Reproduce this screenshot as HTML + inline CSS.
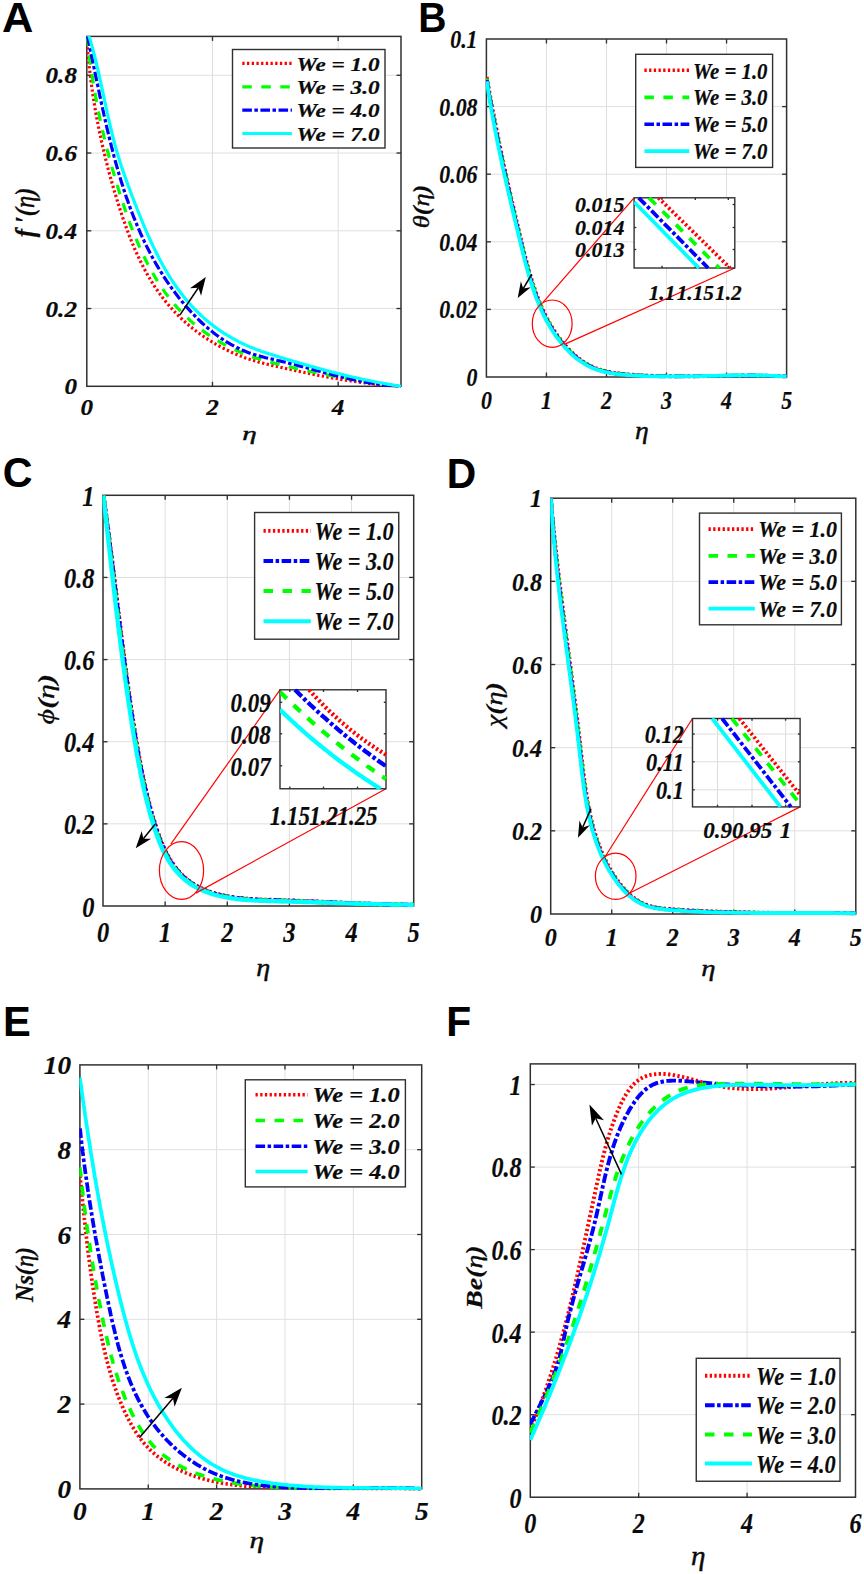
<!DOCTYPE html>
<html lang="en"><head><meta charset="utf-8"><title>Figure</title>
<style>
html,body{margin:0;padding:0;background:#fff}
svg{display:block}
svg text{font-family:"Liberation Serif", "DejaVu Serif", serif;font-weight:bold;font-style:italic;fill:#0a0a0a;stroke:#0a0a0a;stroke-width:0.22px}
svg text tspan.g{font-weight:normal;stroke-width:0.4px}
svg text.pl{font-family:"Liberation Sans","DejaVu Sans",sans-serif;font-style:normal;fill:#000;stroke:none}
</style></head>
<body>
<svg width="864" height="1574" viewBox="0 0 864 1574">
<rect x="0" y="0" width="864" height="1574" fill="#fff"/>
<clipPath id="clipA"><rect x="86.3" y="35.9" width="316.7" height="351.9"/></clipPath>
<text class="pl" transform="translate(2,32.2) scale(1.000,1)" font-size="43.4">A</text>
<line x1="212.48" y1="36.4" x2="212.48" y2="386.3" stroke="#dfdfdf" stroke-width="1"/>
<line x1="338.16" y1="36.4" x2="338.16" y2="386.3" stroke="#dfdfdf" stroke-width="1"/>
<line x1="86.8" y1="308.54" x2="401" y2="308.54" stroke="#dfdfdf" stroke-width="1"/>
<line x1="86.8" y1="230.79" x2="401" y2="230.79" stroke="#dfdfdf" stroke-width="1"/>
<line x1="86.8" y1="153.03" x2="401" y2="153.03" stroke="#dfdfdf" stroke-width="1"/>
<line x1="86.8" y1="75.28" x2="401" y2="75.28" stroke="#dfdfdf" stroke-width="1"/>
<rect x="86.8" y="36.4" width="314.2" height="349.9" fill="none" stroke="#303030" stroke-width="1.5"/>
<text transform="translate(86.8,414.6) scale(1.120,1)" font-size="22.5" text-anchor="middle">0</text>
<line x1="212.48" y1="386.3" x2="212.48" y2="381.8" stroke="#303030" stroke-width="1.35"/>
<line x1="212.48" y1="36.4" x2="212.48" y2="40.9" stroke="#303030" stroke-width="1.35"/>
<text transform="translate(212.48,414.6) scale(1.120,1)" font-size="22.5" text-anchor="middle">2</text>
<line x1="338.16" y1="386.3" x2="338.16" y2="381.8" stroke="#303030" stroke-width="1.35"/>
<line x1="338.16" y1="36.4" x2="338.16" y2="40.9" stroke="#303030" stroke-width="1.35"/>
<text transform="translate(338.16,414.6) scale(1.120,1)" font-size="22.5" text-anchor="middle">4</text>
<text transform="translate(77,394.3) scale(1.120,1)" font-size="22.5" text-anchor="end">0</text>
<line x1="86.8" y1="308.54" x2="91.3" y2="308.54" stroke="#303030" stroke-width="1.35"/>
<line x1="401" y1="308.54" x2="396.5" y2="308.54" stroke="#303030" stroke-width="1.35"/>
<text transform="translate(77,316.54) scale(1.120,1)" font-size="22.5" text-anchor="end">0.2</text>
<line x1="86.8" y1="230.79" x2="91.3" y2="230.79" stroke="#303030" stroke-width="1.35"/>
<line x1="401" y1="230.79" x2="396.5" y2="230.79" stroke="#303030" stroke-width="1.35"/>
<text transform="translate(77,238.79) scale(1.120,1)" font-size="22.5" text-anchor="end">0.4</text>
<line x1="86.8" y1="153.03" x2="91.3" y2="153.03" stroke="#303030" stroke-width="1.35"/>
<line x1="401" y1="153.03" x2="396.5" y2="153.03" stroke="#303030" stroke-width="1.35"/>
<text transform="translate(77,161.03) scale(1.120,1)" font-size="22.5" text-anchor="end">0.6</text>
<line x1="86.8" y1="75.28" x2="91.3" y2="75.28" stroke="#303030" stroke-width="1.35"/>
<line x1="401" y1="75.28" x2="396.5" y2="75.28" stroke="#303030" stroke-width="1.35"/>
<text transform="translate(77,83.28) scale(1.120,1)" font-size="22.5" text-anchor="end">0.8</text>
<text transform="translate(249.5,440) scale(1.500,1)" font-size="19.5" text-anchor="middle"><tspan class="g">η</tspan></text>
<text transform="translate(34.4,212.5) scale(1.100,1) rotate(-90)" font-size="24.5" text-anchor="middle" xml:space="preserve">f ′(<tspan class="g">η</tspan>)</text>
<path d="M86.8,38.0L87.0,40.5L87.1,43.1L87.3,45.6L87.5,48.1L87.7,50.6L87.9,53.2L88.2,55.7L88.4,58.2L88.6,60.7L88.9,63.2L89.1,65.7L89.4,68.2L89.7,70.7L90.0,73.2L90.3,75.7L90.6,78.2L90.9,80.7L91.2,83.2L91.6,85.7L91.9,88.2L92.3,90.6L92.6,93.1L93.0,95.6L93.4,98.1L93.8,100.5L94.2,103.0L94.6,105.5L95.0,107.9L95.4,110.4L95.8,112.9L96.3,115.3L96.7,117.8L97.2,120.2L97.7,122.7L98.1,125.2L98.6,127.6L99.1,130.1L99.6,132.5L100.1,134.9L100.7,137.4L101.2,139.8L101.7,142.3L102.3,144.7L102.8,147.2L103.4,149.6L104.0,152.0L104.6,154.5L105.1,156.9L105.7,159.3L106.4,161.8L107.0,164.2L107.6,166.6L108.2,169.1L108.9,171.5L109.5,173.9L110.2,176.3L110.8,178.8L111.5,181.2L112.2,183.6L112.9,186.0L113.6,188.5L114.3,190.9L115.0,193.3L115.8,195.7L116.5,198.1L117.2,200.6L118.0,203.0L118.8,205.4L119.5,207.8L120.3,210.2L121.1,212.6L121.9,215.1L122.7,217.5L123.5,219.9L124.4,222.3L125.2,224.7L126.1,227.1L126.9,229.4L127.8,231.8L128.7,234.2L129.6,236.6L130.6,238.9L131.5,241.3L132.5,243.6L133.5,245.9L134.4,248.3L135.5,250.6L136.5,252.9L137.5,255.2L138.6,257.4L139.7,259.7L140.8,262.0L141.9,264.2L143.1,266.5L144.2,268.7L145.4,270.9L146.6,273.1L147.8,275.3L149.1,277.4L150.4,279.6L151.7,281.7L153.0,283.8L154.3,285.9L155.7,288.0L157.1,290.0L158.5,292.1L160.0,294.1L161.4,296.1L162.9,298.1L164.5,300.1L166.0,302.0L167.6,303.9L169.2,305.8L170.9,307.7L172.5,309.6L174.2,311.4L176.0,313.2L177.7,315.0L179.5,316.8L181.3,318.5L183.1,320.2L185.0,321.9L186.9,323.6L188.8,325.2L190.8,326.8L192.7,328.4L194.7,330.0L196.7,331.5L198.7,333.0L200.8,334.5L202.9,336.0L205.0,337.4L207.1,338.8L209.2,340.1L211.3,341.5L213.5,342.8L215.7,344.1L217.9,345.3L220.1,346.5L222.4,347.7L224.6,348.9L226.9,350.0L229.2,351.1L231.5,352.2L233.8,353.2L236.1,354.2L238.4,355.2L240.8,356.1L243.1,357.0L245.5,357.9L247.9,358.7L250.3,359.5L252.7,360.2L255.1,361.0L257.5,361.7L259.9,362.4L262.4,363.0L264.8,363.6L267.2,364.2L269.7,364.8L272.1,365.4L274.6,366.0L277.0,366.5L279.5,367.1L281.9,367.6L284.4,368.2L286.8,368.7L289.3,369.3L291.7,369.8L294.2,370.3L296.6,370.9L299.1,371.4L301.6,371.9L304.0,372.4L306.5,372.9L308.9,373.4L311.4,373.9L313.9,374.4L316.3,374.9L318.8,375.4L321.3,375.8L323.7,376.3L326.2,376.8L328.7,377.2L331.2,377.7L333.6,378.1L336.1,378.5L338.6,378.9L341.1,379.4L343.5,379.8L346.0,380.2L348.5,380.5L351.0,380.9L353.5,381.3L356.0,381.7L358.4,382.0L360.9,382.3L363.4,382.7L365.9,383.0L368.4,383.3L370.9,383.6L373.4,383.9L375.9,384.2L378.4,384.4L380.9,384.7L383.4,384.9L385.9,385.2L388.4,385.4L390.9,385.6L393.5,385.8L396.0,386.0L398.5,386.1L401.0,386.3" fill="none" stroke="#ff0000" stroke-width="3.2" stroke-dasharray="2.3,2.4" clip-path="url(#clipA)"/>
<path d="M87.0,36.4L87.3,39.0L87.6,41.5L87.8,44.1L88.1,46.6L88.4,49.1L88.8,51.7L89.1,54.2L89.4,56.7L89.7,59.2L90.1,61.8L90.4,64.3L90.8,66.8L91.1,69.3L91.5,71.8L91.9,74.3L92.3,76.8L92.7,79.2L93.1,81.7L93.5,84.2L93.9,86.7L94.3,89.2L94.7,91.6L95.2,94.1L95.6,96.6L96.1,99.0L96.5,101.5L97.0,103.9L97.5,106.4L97.9,108.8L98.4,111.3L98.9,113.7L99.4,116.2L99.9,118.6L100.5,121.1L101.0,123.5L101.5,125.9L102.1,128.4L102.6,130.8L103.2,133.2L103.8,135.7L104.3,138.1L104.9,140.5L105.5,142.9L106.1,145.3L106.7,147.8L107.3,150.2L108.0,152.6L108.6,155.0L109.2,157.4L109.9,159.9L110.5,162.3L111.2,164.7L111.9,167.1L112.6,169.5L113.3,171.9L114.0,174.3L114.7,176.8L115.4,179.2L116.1,181.6L116.8,184.0L117.6,186.4L118.3,188.8L119.1,191.3L119.8,193.7L120.6,196.1L121.4,198.5L122.2,200.9L123.0,203.3L123.8,205.8L124.6,208.2L125.4,210.6L126.3,213.0L127.1,215.4L128.0,217.8L128.9,220.3L129.7,222.7L130.6,225.1L131.5,227.5L132.5,229.9L133.4,232.2L134.3,234.6L135.3,237.0L136.3,239.4L137.3,241.7L138.3,244.1L139.3,246.4L140.4,248.7L141.4,251.1L142.5,253.4L143.6,255.7L144.7,258.0L145.8,260.2L147.0,262.5L148.1,264.8L149.3,267.0L150.5,269.2L151.7,271.4L153.0,273.6L154.3,275.8L155.6,278.0L156.9,280.1L158.2,282.2L159.6,284.4L160.9,286.4L162.3,288.5L163.8,290.6L165.2,292.6L166.7,294.6L168.2,296.6L169.7,298.6L171.3,300.5L172.8,302.5L174.4,304.4L176.1,306.3L177.7,308.1L179.4,309.9L181.1,311.8L182.9,313.5L184.7,315.3L186.5,317.0L188.3,318.7L190.1,320.4L192.0,322.1L193.9,323.7L195.8,325.3L197.7,326.9L199.7,328.4L201.7,329.9L203.7,331.4L205.7,332.9L207.8,334.3L209.9,335.7L212.0,337.1L214.1,338.5L216.2,339.8L218.4,341.1L220.6,342.4L222.7,343.6L225.0,344.8L227.2,346.0L229.4,347.1L231.7,348.2L234.0,349.3L236.2,350.4L238.6,351.4L240.9,352.4L243.2,353.4L245.6,354.3L247.9,355.2L250.3,356.0L252.7,356.9L255.1,357.7L257.5,358.5L259.9,359.2L262.3,359.9L264.8,360.6L267.2,361.3L269.7,362.0L272.1,362.6L274.6,363.3L277.0,363.9L279.5,364.5L281.9,365.1L284.4,365.7L286.9,366.3L289.3,366.9L291.8,367.4L294.3,368.0L296.7,368.6L299.2,369.1L301.7,369.7L304.1,370.2L306.6,370.7L309.1,371.2L311.5,371.8L314.0,372.3L316.5,372.8L319.0,373.3L321.4,373.7L323.9,374.2L326.4,374.7L328.9,375.2L331.4,375.6L333.8,376.1L336.3,376.5L338.8,377.0L341.3,377.4L343.8,377.8L346.2,378.3L348.7,378.7L351.2,379.1L353.7,379.5L356.2,379.9L358.7,380.3L361.2,380.7L363.6,381.1L366.1,381.4L368.6,381.8L371.1,382.2L373.6,382.6L376.1,382.9L378.6,383.3L381.1,383.6L383.6,384.0L386.0,384.3L388.5,384.7L391.0,385.0L393.5,385.3L396.0,385.7L398.5,386.0L401.0,386.3" fill="none" stroke="#00ff00" stroke-width="3.2" stroke-dasharray="9.5,9.5" clip-path="url(#clipA)"/>
<path d="M87.5,36.4L88.0,38.8L88.5,41.2L89.0,43.5L89.5,45.9L90.0,48.3L90.5,50.7L91.0,53.2L91.5,55.6L92.0,58.0L92.5,60.4L93.0,62.8L93.5,65.3L94.0,67.7L94.5,70.1L95.0,72.6L95.5,75.0L96.0,77.5L96.5,79.9L97.1,82.4L97.6,84.8L98.1,87.3L98.6,89.8L99.1,92.2L99.6,94.7L100.1,97.2L100.7,99.6L101.2,102.1L101.7,104.6L102.3,107.1L102.8,109.5L103.4,112.0L103.9,114.5L104.5,117.0L105.0,119.5L105.6,121.9L106.2,124.4L106.7,126.9L107.3,129.4L107.9,131.9L108.5,134.3L109.1,136.8L109.7,139.3L110.3,141.8L110.9,144.2L111.5,146.7L112.2,149.2L112.8,151.6L113.5,154.1L114.1,156.6L114.8,159.0L115.4,161.5L116.1,163.9L116.8,166.4L117.5,168.8L118.2,171.3L118.9,173.7L119.7,176.1L120.4,178.6L121.1,181.0L121.9,183.4L122.7,185.9L123.4,188.3L124.2,190.7L125.0,193.1L125.8,195.5L126.6,197.9L127.5,200.3L128.3,202.6L129.2,205.0L130.0,207.4L130.9,209.8L131.8,212.1L132.7,214.5L133.6,216.8L134.6,219.2L135.5,221.5L136.5,223.8L137.4,226.1L138.4,228.4L139.4,230.7L140.4,233.0L141.5,235.3L142.5,237.6L143.6,239.9L144.6,242.1L145.7,244.4L146.8,246.6L147.9,248.8L149.1,251.1L150.2,253.3L151.4,255.5L152.6,257.7L153.8,259.9L155.0,262.0L156.2,264.2L157.5,266.3L158.8,268.5L160.0,270.6L161.4,272.7L162.7,274.8L164.0,276.9L165.4,279.0L166.8,281.1L168.2,283.1L169.6,285.2L171.0,287.2L172.5,289.3L174.0,291.3L175.5,293.3L177.0,295.2L178.5,297.2L180.1,299.2L181.6,301.1L183.3,303.0L184.9,305.0L186.5,306.9L188.2,308.7L189.9,310.6L191.6,312.5L193.3,314.3L195.1,316.1L196.8,317.9L198.6,319.7L200.5,321.5L202.3,323.2L204.2,324.9L206.1,326.6L208.0,328.2L209.9,329.8L211.9,331.4L213.8,333.0L215.8,334.5L217.9,336.0L219.9,337.5L222.0,338.9L224.1,340.3L226.2,341.6L228.3,342.9L230.5,344.2L232.7,345.4L234.9,346.6L237.1,347.7L239.4,348.8L241.6,349.9L244.0,350.8L246.3,351.8L248.6,352.7L251.0,353.5L253.4,354.3L255.8,355.0L258.3,355.7L260.7,356.4L263.2,357.0L265.6,357.7L268.1,358.3L270.6,358.8L273.1,359.4L275.6,360.0L278.1,360.6L280.6,361.1L283.0,361.7L285.5,362.3L288.0,362.9L290.4,363.6L292.9,364.2L295.3,364.8L297.8,365.4L300.2,366.1L302.6,366.7L305.1,367.4L307.5,368.0L309.9,368.7L312.3,369.3L314.8,370.0L317.2,370.6L319.6,371.3L322.0,371.9L324.4,372.6L326.8,373.2L329.3,373.8L331.7,374.5L334.1,375.1L336.5,375.7L338.9,376.3L341.4,376.9L343.8,377.5L346.2,378.1L348.6,378.6L351.1,379.2L353.5,379.7L356.0,380.2L358.4,380.7L360.8,381.2L363.3,381.7L365.8,382.2L368.2,382.6L370.7,383.0L373.2,383.4L375.7,383.8L378.2,384.2L380.7,384.5L383.2,384.8L385.7,385.1L388.2,385.4L390.8,385.6L393.3,385.8L395.9,386.0L398.4,386.2L401.0,386.3" fill="none" stroke="#0000ff" stroke-width="3.2" stroke-dasharray="9.6,2.5,3.5,2.5" clip-path="url(#clipA)"/>
<path d="M88.5,34.4L89.2,36.8L90.0,39.2L90.7,41.6L91.3,44.0L92.0,46.4L92.7,48.9L93.3,51.3L94.0,53.7L94.6,56.2L95.2,58.6L95.8,61.1L96.4,63.5L97.0,66.0L97.6,68.4L98.1,70.9L98.7,73.4L99.3,75.9L99.8,78.3L100.4,80.8L100.9,83.3L101.4,85.8L102.0,88.2L102.5,90.7L103.0,93.2L103.6,95.7L104.1,98.1L104.6,100.6L105.2,103.1L105.7,105.6L106.2,108.1L106.8,110.5L107.3,113.0L107.9,115.5L108.4,117.9L109.0,120.4L109.5,122.9L110.1,125.3L110.7,127.8L111.3,130.2L111.8,132.7L112.5,135.1L113.1,137.5L113.7,140.0L114.3,142.4L115.0,144.8L115.6,147.2L116.3,149.6L117.0,152.0L117.7,154.4L118.4,156.8L119.2,159.2L119.9,161.5L120.7,163.9L121.4,166.3L122.2,168.6L123.0,171.0L123.8,173.3L124.6,175.7L125.5,178.0L126.3,180.4L127.2,182.7L128.0,185.0L128.9,187.4L129.8,189.7L130.6,192.1L131.5,194.4L132.4,196.8L133.3,199.1L134.2,201.5L135.1,203.8L136.1,206.2L137.0,208.5L137.9,210.9L138.9,213.3L139.8,215.6L140.8,218.0L141.7,220.4L142.7,222.7L143.7,225.1L144.7,227.4L145.7,229.8L146.7,232.1L147.7,234.5L148.8,236.8L149.8,239.1L150.9,241.5L152.0,243.8L153.1,246.1L154.2,248.4L155.3,250.7L156.4,253.0L157.6,255.3L158.7,257.5L159.9,259.8L161.1,262.0L162.3,264.2L163.6,266.5L164.8,268.7L166.1,270.9L167.4,273.0L168.7,275.2L170.0,277.3L171.4,279.5L172.8,281.6L174.2,283.7L175.6,285.7L177.0,287.8L178.5,289.8L180.0,291.8L181.5,293.8L183.0,295.8L184.6,297.7L186.2,299.7L187.8,301.6L189.4,303.5L191.1,305.3L192.8,307.2L194.5,309.0L196.2,310.7L198.0,312.5L199.8,314.2L201.6,315.9L203.5,317.6L205.3,319.2L207.2,320.9L209.2,322.5L211.1,324.0L213.1,325.6L215.1,327.1L217.1,328.5L219.2,330.0L221.2,331.4L223.3,332.8L225.4,334.1L227.6,335.4L229.7,336.7L231.9,338.0L234.1,339.2L236.3,340.4L238.5,341.6L240.8,342.7L243.0,343.8L245.3,344.9L247.6,345.9L249.9,346.9L252.3,347.8L254.6,348.8L257.0,349.7L259.4,350.5L261.7,351.4L264.1,352.2L266.5,353.0L268.9,353.8L271.4,354.5L273.8,355.3L276.2,356.1L278.6,356.8L281.1,357.5L283.5,358.3L285.9,359.0L288.3,359.7L290.8,360.4L293.2,361.2L295.6,361.9L298.0,362.6L300.4,363.3L302.9,364.0L305.3,364.7L307.7,365.4L310.1,366.1L312.6,366.7L315.0,367.4L317.4,368.1L319.9,368.7L322.3,369.4L324.7,370.1L327.1,370.7L329.6,371.3L332.0,372.0L334.4,372.6L336.9,373.2L339.3,373.8L341.8,374.4L344.2,375.0L346.6,375.6L349.1,376.2L351.5,376.8L354.0,377.3L356.4,377.9L358.9,378.4L361.3,379.0L363.8,379.5L366.3,380.0L368.7,380.5L371.2,381.0L373.7,381.5L376.1,382.0L378.6,382.5L381.1,382.9L383.6,383.4L386.0,383.8L388.5,384.3L391.0,384.7L393.5,385.1L396.0,385.5L398.5,385.9L401.0,386.3" fill="none" stroke="#00ffff" stroke-width="3.2" clip-path="url(#clipA)"/>
<line x1="179.8" y1="315.1" x2="198.39" y2="287.79" stroke="#000" stroke-width="1.5"/>
<polygon points="205.8,276.9 201.04,295.8 198.39,287.79 189.96,288.26" fill="#000"/>
<rect x="232.5" y="49.5" width="152.5" height="98.5" fill="#fff" stroke="#303030" stroke-width="1.4"/>
<path d="M242.3,63.3L291.9,63.3" fill="none" stroke="#ff0000" stroke-width="3.2" stroke-dasharray="2.3,2.4"/>
<text transform="translate(296.5,70.5) scale(1.235,1)" font-size="18.8" text-anchor="start" xml:space="preserve">We = 1.0</text>
<path d="M242.3,86.9L291.9,86.9" fill="none" stroke="#00ff00" stroke-width="3.2" stroke-dasharray="9.5,9.5"/>
<text transform="translate(296.5,93.6) scale(1.235,1)" font-size="18.8" text-anchor="start" xml:space="preserve">We = 3.0</text>
<path d="M242.3,110.2L291.9,110.2" fill="none" stroke="#0000ff" stroke-width="3.2" stroke-dasharray="9.6,2.5,3.5,2.5"/>
<text transform="translate(296.5,117) scale(1.235,1)" font-size="18.8" text-anchor="start" xml:space="preserve">We = 4.0</text>
<path d="M242.3,133.5L291.9,133.5" fill="none" stroke="#00ffff" stroke-width="3.2"/>
<text transform="translate(296.5,140.6) scale(1.235,1)" font-size="18.8" text-anchor="start" xml:space="preserve">We = 7.0</text>
<clipPath id="clipB"><rect x="485.9" y="38.5" width="302.7" height="340"/></clipPath>
<text class="pl" transform="translate(418.3,32.2) scale(0.900,1)" font-size="43.4">B</text>
<line x1="546.44" y1="39" x2="546.44" y2="377" stroke="#dfdfdf" stroke-width="1"/>
<line x1="606.48" y1="39" x2="606.48" y2="377" stroke="#dfdfdf" stroke-width="1"/>
<line x1="666.52" y1="39" x2="666.52" y2="377" stroke="#dfdfdf" stroke-width="1"/>
<line x1="726.56" y1="39" x2="726.56" y2="377" stroke="#dfdfdf" stroke-width="1"/>
<line x1="486.4" y1="309.4" x2="786.6" y2="309.4" stroke="#dfdfdf" stroke-width="1"/>
<line x1="486.4" y1="241.8" x2="786.6" y2="241.8" stroke="#dfdfdf" stroke-width="1"/>
<line x1="486.4" y1="174.2" x2="786.6" y2="174.2" stroke="#dfdfdf" stroke-width="1"/>
<line x1="486.4" y1="106.6" x2="786.6" y2="106.6" stroke="#dfdfdf" stroke-width="1"/>
<rect x="486.4" y="39" width="300.2" height="338" fill="none" stroke="#303030" stroke-width="1.5"/>
<text transform="translate(486.4,409.2) scale(0.860,1)" font-size="25.4" text-anchor="middle">0</text>
<line x1="546.44" y1="377" x2="546.44" y2="372.5" stroke="#303030" stroke-width="1.35"/>
<line x1="546.44" y1="39" x2="546.44" y2="43.5" stroke="#303030" stroke-width="1.35"/>
<text transform="translate(546.44,409.2) scale(0.860,1)" font-size="25.4" text-anchor="middle">1</text>
<line x1="606.48" y1="377" x2="606.48" y2="372.5" stroke="#303030" stroke-width="1.35"/>
<line x1="606.48" y1="39" x2="606.48" y2="43.5" stroke="#303030" stroke-width="1.35"/>
<text transform="translate(606.48,409.2) scale(0.860,1)" font-size="25.4" text-anchor="middle">2</text>
<line x1="666.52" y1="377" x2="666.52" y2="372.5" stroke="#303030" stroke-width="1.35"/>
<line x1="666.52" y1="39" x2="666.52" y2="43.5" stroke="#303030" stroke-width="1.35"/>
<text transform="translate(666.52,409.2) scale(0.860,1)" font-size="25.4" text-anchor="middle">3</text>
<line x1="726.56" y1="377" x2="726.56" y2="372.5" stroke="#303030" stroke-width="1.35"/>
<line x1="726.56" y1="39" x2="726.56" y2="43.5" stroke="#303030" stroke-width="1.35"/>
<text transform="translate(726.56,409.2) scale(0.860,1)" font-size="25.4" text-anchor="middle">4</text>
<text transform="translate(786.6,409.2) scale(0.860,1)" font-size="25.4" text-anchor="middle">5</text>
<text transform="translate(477.5,386) scale(0.860,1)" font-size="25.4" text-anchor="end">0</text>
<line x1="486.4" y1="309.4" x2="490.9" y2="309.4" stroke="#303030" stroke-width="1.35"/>
<line x1="786.6" y1="309.4" x2="782.1" y2="309.4" stroke="#303030" stroke-width="1.35"/>
<text transform="translate(477.5,318.4) scale(0.860,1)" font-size="25.4" text-anchor="end">0.02</text>
<line x1="486.4" y1="241.8" x2="490.9" y2="241.8" stroke="#303030" stroke-width="1.35"/>
<line x1="786.6" y1="241.8" x2="782.1" y2="241.8" stroke="#303030" stroke-width="1.35"/>
<text transform="translate(477.5,250.8) scale(0.860,1)" font-size="25.4" text-anchor="end">0.04</text>
<line x1="486.4" y1="174.2" x2="490.9" y2="174.2" stroke="#303030" stroke-width="1.35"/>
<line x1="786.6" y1="174.2" x2="782.1" y2="174.2" stroke="#303030" stroke-width="1.35"/>
<text transform="translate(477.5,183.2) scale(0.860,1)" font-size="25.4" text-anchor="end">0.06</text>
<line x1="486.4" y1="106.6" x2="490.9" y2="106.6" stroke="#303030" stroke-width="1.35"/>
<line x1="786.6" y1="106.6" x2="782.1" y2="106.6" stroke="#303030" stroke-width="1.35"/>
<text transform="translate(477.5,115.6) scale(0.860,1)" font-size="25.4" text-anchor="end">0.08</text>
<text transform="translate(477.5,48) scale(0.860,1)" font-size="25.4" text-anchor="end">0.1</text>
<text transform="translate(641.8,439) scale(1.130,1)" font-size="24.5" text-anchor="middle"><tspan class="g">η</tspan></text>
<text transform="translate(428.5,206.5) scale(0.876,1) rotate(-90)" font-size="26.4" text-anchor="middle" xml:space="preserve"><tspan class="g">θ</tspan>(<tspan class="g">η</tspan>)</text>
<path d="M486.8,77.0L487.2,79.5L487.7,82.0L488.1,84.6L488.6,87.1L489.0,89.6L489.5,92.1L489.9,94.6L490.4,97.1L490.9,99.6L491.3,102.1L491.8,104.6L492.3,107.1L492.7,109.6L493.2,112.0L493.7,114.5L494.2,117.0L494.6,119.5L495.1,121.9L495.6,124.4L496.1,126.9L496.6,129.3L497.1,131.8L497.6,134.3L498.1,136.7L498.6,139.2L499.1,141.7L499.6,144.1L500.1,146.6L500.6,149.0L501.1,151.5L501.6,153.9L502.2,156.4L502.7,158.8L503.2,161.3L503.7,163.7L504.2,166.2L504.8,168.6L505.3,171.0L505.8,173.5L506.4,175.9L506.9,178.4L507.5,180.8L508.0,183.3L508.5,185.7L509.1,188.2L509.6,190.6L510.2,193.1L510.8,195.5L511.3,197.9L511.9,200.4L512.4,202.8L513.0,205.3L513.6,207.7L514.1,210.2L514.7,212.6L515.3,215.1L515.8,217.6L516.4,220.0L517.0,222.5L517.6,224.9L518.2,227.4L518.8,229.8L519.3,232.3L519.9,234.8L520.5,237.2L521.1,239.7L521.7,242.2L522.3,244.7L522.9,247.1L523.5,249.6L524.1,252.1L524.8,254.6L525.4,257.1L526.0,259.5L526.7,262.0L527.3,264.5L528.0,266.9L528.7,269.4L529.4,271.8L530.1,274.3L530.8,276.7L531.5,279.2L532.3,281.6L533.1,284.0L533.8,286.4L534.7,288.8L535.5,291.2L536.3,293.6L537.2,296.0L538.1,298.3L539.0,300.7L540.0,303.0L540.9,305.3L541.9,307.6L543.0,309.9L544.0,312.1L545.1,314.4L546.2,316.6L547.4,318.8L548.5,321.0L549.8,323.2L551.0,325.4L552.3,327.5L553.6,329.6L555.0,331.7L556.4,333.8L557.8,335.8L559.3,337.8L560.8,339.8L562.3,341.8L563.9,343.8L565.6,345.7L567.3,347.6L569.0,349.4L570.8,351.2L572.6,353.0L574.4,354.7L576.3,356.3L578.3,357.9L580.3,359.4L582.3,360.9L584.4,362.3L586.5,363.6L588.6,364.8L590.8,366.0L593.1,367.0L595.4,368.0L597.7,368.8L600.0,369.6L602.4,370.3L604.9,370.9L607.3,371.5L609.8,372.0L612.3,372.4L614.8,372.8L617.3,373.2L619.9,373.5L622.4,373.8L625.0,374.0L627.5,374.3L630.1,374.5L632.6,374.7L635.2,374.9L637.7,375.0L640.3,375.2L642.8,375.3L645.3,375.5L647.9,375.6L650.4,375.7L652.9,375.8L655.5,375.9L658.0,376.0L660.5,376.1L663.1,376.1L665.6,376.2L668.1,376.2L670.6,376.3L673.2,376.3L675.7,376.3L678.2,376.4L680.7,376.4L683.2,376.4L685.7,376.4L688.2,376.4L690.8,376.4L693.3,376.4L695.8,376.4L698.3,376.3L700.8,376.3L703.3,376.3L705.8,376.3L708.3,376.2L710.9,376.2L713.4,376.2L715.9,376.1L718.4,376.1L720.9,376.1L723.4,376.0L725.9,376.0L728.4,376.0L730.9,376.0L733.5,375.9L736.0,375.9L738.5,375.9L741.0,375.9L743.5,375.9L746.1,375.9L748.6,375.9L751.1,375.9L753.6,375.9L756.1,375.9L758.7,375.9L761.2,375.9L763.7,375.9L766.3,376.0L768.8,376.0L771.3,376.1L773.9,376.1L776.4,376.2L779.0,376.3L781.5,376.4L784.0,376.5L786.6,376.6" fill="none" stroke="#ff0000" stroke-width="3.8" stroke-dasharray="2.3,2.4" clip-path="url(#clipB)"/>
<path d="M486.8,78.5L487.2,81.0L487.7,83.5L488.1,86.1L488.5,88.6L489.0,91.1L489.4,93.6L489.8,96.1L490.3,98.6L490.7,101.1L491.2,103.6L491.6,106.1L492.1,108.6L492.6,111.1L493.0,113.5L493.5,116.0L494.0,118.5L494.5,121.0L494.9,123.4L495.4,125.9L495.9,128.4L496.4,130.8L496.9,133.3L497.4,135.7L497.9,138.2L498.4,140.6L498.9,143.1L499.4,145.5L499.9,148.0L500.4,150.4L500.9,152.9L501.4,155.3L501.9,157.8L502.5,160.2L503.0,162.7L503.5,165.1L504.0,167.5L504.6,170.0L505.1,172.4L505.6,174.9L506.2,177.3L506.7,179.7L507.3,182.2L507.8,184.6L508.3,187.1L508.9,189.5L509.4,191.9L510.0,194.4L510.6,196.8L511.1,199.3L511.7,201.7L512.2,204.1L512.8,206.6L513.4,209.0L514.0,211.5L514.5,213.9L515.1,216.4L515.7,218.8L516.3,221.3L516.8,223.7L517.4,226.2L518.0,228.6L518.6,231.1L519.2,233.6L519.8,236.0L520.4,238.5L521.0,241.0L521.6,243.4L522.2,245.9L522.8,248.4L523.4,250.8L524.0,253.3L524.6,255.8L525.3,258.3L525.9,260.7L526.5,263.2L527.2,265.7L527.9,268.1L528.5,270.6L529.2,273.0L529.9,275.5L530.7,277.9L531.4,280.3L532.2,282.8L532.9,285.2L533.7,287.6L534.5,290.0L535.4,292.4L536.2,294.7L537.1,297.1L538.0,299.4L538.9,301.8L539.9,304.1L540.9,306.4L541.9,308.7L542.9,311.0L544.0,313.2L545.1,315.5L546.2,317.7L547.3,319.9L548.5,322.1L549.7,324.2L551.0,326.4L552.3,328.5L553.6,330.6L555.0,332.7L556.4,334.8L557.8,336.8L559.3,338.8L560.8,340.8L562.4,342.7L564.0,344.7L565.7,346.6L567.4,348.4L569.1,350.3L570.9,352.0L572.7,353.8L574.6,355.5L576.5,357.1L578.5,358.7L580.5,360.2L582.5,361.6L584.6,362.9L586.7,364.2L588.9,365.4L591.1,366.5L593.3,367.5L595.6,368.5L598.0,369.3L600.3,370.1L602.7,370.7L605.1,371.4L607.6,371.9L610.1,372.4L612.6,372.8L615.1,373.2L617.6,373.5L620.1,373.8L622.7,374.1L625.2,374.4L627.8,374.6L630.3,374.8L632.9,375.0L635.4,375.2L637.9,375.3L640.5,375.5L643.0,375.6L645.6,375.7L648.1,375.8L650.6,375.9L653.2,376.0L655.7,376.1L658.2,376.2L660.7,376.2L663.3,376.3L665.8,376.3L668.3,376.4L670.8,376.4L673.3,376.4L675.8,376.4L678.4,376.4L680.9,376.4L683.4,376.4L685.9,376.4L688.4,376.4L690.9,376.4L693.4,376.3L696.0,376.3L698.5,376.3L701.0,376.2L703.5,376.2L706.0,376.2L708.5,376.1L711.0,376.1L713.5,376.0L716.0,376.0L718.5,376.0L721.0,375.9L723.6,375.9L726.1,375.8L728.6,375.8L731.1,375.8L733.6,375.7L736.1,375.7L738.6,375.7L741.1,375.7L743.7,375.7L746.2,375.7L748.7,375.7L751.2,375.7L753.7,375.7L756.2,375.7L758.8,375.7L761.3,375.7L763.8,375.8L766.3,375.8L768.9,375.9L771.4,376.0L773.9,376.0L776.5,376.1L779.0,376.2L781.5,376.3L784.1,376.5L786.6,376.6" fill="none" stroke="#00ff00" stroke-width="3.8" stroke-dasharray="9.5,9.5" clip-path="url(#clipB)"/>
<path d="M486.8,80.0L487.2,82.5L487.6,85.1L488.0,87.6L488.5,90.1L488.9,92.6L489.3,95.1L489.7,97.6L490.2,100.1L490.6,102.6L491.1,105.1L491.5,107.6L492.0,110.1L492.4,112.5L492.9,115.0L493.3,117.5L493.8,120.0L494.3,122.4L494.8,124.9L495.2,127.4L495.7,129.8L496.2,132.3L496.7,134.7L497.2,137.2L497.7,139.6L498.2,142.1L498.7,144.5L499.2,147.0L499.7,149.4L500.2,151.9L500.7,154.3L501.2,156.7L501.7,159.2L502.2,161.6L502.8,164.0L503.3,166.5L503.8,168.9L504.4,171.3L504.9,173.8L505.4,176.2L506.0,178.6L506.5,181.1L507.1,183.5L507.6,185.9L508.2,188.4L508.7,190.8L509.3,193.2L509.8,195.7L510.4,198.1L511.0,200.5L511.5,203.0L512.1,205.4L512.7,207.9L513.2,210.3L513.8,212.7L514.4,215.2L515.0,217.6L515.5,220.1L516.1,222.5L516.7,225.0L517.3,227.4L517.9,229.9L518.5,232.3L519.1,234.8L519.6,237.2L520.2,239.7L520.8,242.2L521.4,244.6L522.0,247.1L522.6,249.6L523.3,252.0L523.9,254.5L524.5,257.0L525.1,259.4L525.8,261.9L526.4,264.4L527.1,266.8L527.7,269.3L528.4,271.7L529.1,274.2L529.8,276.6L530.6,279.0L531.3,281.5L532.1,283.9L532.8,286.3L533.6,288.7L534.5,291.1L535.3,293.4L536.2,295.8L537.0,298.2L538.0,300.5L538.9,302.8L539.8,305.1L540.8,307.4L541.8,309.7L542.9,312.0L543.9,314.2L545.0,316.5L546.2,318.7L547.3,320.9L548.5,323.1L549.8,325.2L551.0,327.3L552.3,329.5L553.7,331.5L555.0,333.6L556.5,335.7L557.9,337.7L559.4,339.7L560.9,341.6L562.5,343.6L564.1,345.5L565.8,347.4L567.5,349.2L569.3,351.0L571.1,352.8L572.9,354.5L574.8,356.2L576.7,357.8L578.7,359.3L580.7,360.8L582.7,362.2L584.8,363.5L587.0,364.8L589.1,365.9L591.4,367.0L593.6,368.0L595.9,368.9L598.3,369.7L600.6,370.4L603.0,371.1L605.5,371.7L607.9,372.2L610.4,372.7L612.9,373.1L615.4,373.5L617.9,373.8L620.4,374.1L623.0,374.4L625.5,374.6L628.1,374.8L630.6,375.0L633.1,375.2L635.7,375.4L638.2,375.5L640.7,375.6L643.3,375.8L645.8,375.9L648.3,376.0L650.9,376.1L653.4,376.2L655.9,376.2L658.4,376.3L661.0,376.3L663.5,376.4L666.0,376.4L668.5,376.4L671.0,376.4L673.5,376.5L676.1,376.5L678.6,376.4L681.1,376.4L683.6,376.4L686.1,376.4L688.6,376.4L691.1,376.3L693.6,376.3L696.1,376.3L698.6,376.2L701.1,376.2L703.6,376.1L706.2,376.1L708.7,376.0L711.2,376.0L713.7,375.9L716.2,375.9L718.7,375.8L721.2,375.8L723.7,375.8L726.2,375.7L728.7,375.7L731.2,375.6L733.7,375.6L736.2,375.6L738.7,375.6L741.3,375.5L743.8,375.5L746.3,375.5L748.8,375.5L751.3,375.5L753.8,375.5L756.3,375.6L758.8,375.6L761.4,375.6L763.9,375.7L766.4,375.7L768.9,375.8L771.4,375.9L774.0,376.0L776.5,376.1L779.0,376.2L781.5,376.3L784.1,376.4L786.6,376.6" fill="none" stroke="#0000ff" stroke-width="3.8" stroke-dasharray="9.6,2.5,3.5,2.5" clip-path="url(#clipB)"/>
<path d="M486.8,81.3L487.2,83.8L487.6,86.4L488.0,88.9L488.4,91.5L488.8,94.0L489.2,96.5L489.6,99.0L490.0,101.5L490.4,104.0L490.9,106.5L491.3,109.0L491.7,111.5L492.2,114.0L492.6,116.5L493.1,119.0L493.5,121.5L494.0,124.0L494.5,126.4L494.9,128.9L495.4,131.4L495.9,133.8L496.4,136.3L496.9,138.8L497.3,141.2L497.8,143.7L498.3,146.1L498.8,148.6L499.4,151.1L499.9,153.5L500.4,156.0L500.9,158.4L501.4,160.8L501.9,163.3L502.5,165.7L503.0,168.2L503.5,170.6L504.1,173.1L504.6,175.5L505.2,177.9L505.7,180.4L506.3,182.8L506.8,185.3L507.4,187.7L507.9,190.1L508.5,192.6L509.1,195.0L509.6,197.5L510.2,199.9L510.8,202.3L511.3,204.8L511.9,207.2L512.5,209.7L513.1,212.1L513.7,214.6L514.2,217.0L514.8,219.5L515.4,221.9L516.0,224.4L516.6,226.8L517.2,229.3L517.8,231.8L518.4,234.2L519.0,236.7L519.6,239.2L520.2,241.6L520.8,244.1L521.4,246.6L522.0,249.1L522.6,251.5L523.2,254.0L523.8,256.5L524.5,259.0L525.1,261.5L525.8,263.9L526.4,266.4L527.1,268.9L527.8,271.3L528.5,273.8L529.2,276.2L529.9,278.7L530.6,281.1L531.4,283.6L532.2,286.0L533.0,288.4L533.8,290.8L534.6,293.2L535.5,295.6L536.3,297.9L537.2,300.3L538.2,302.6L539.1,304.9L540.1,307.3L541.1,309.5L542.1,311.8L543.2,314.1L544.3,316.3L545.4,318.6L546.6,320.8L547.8,323.0L549.0,325.1L550.3,327.3L551.6,329.4L552.9,331.5L554.3,333.6L555.7,335.6L557.1,337.7L558.6,339.7L560.2,341.6L561.8,343.6L563.4,345.5L565.0,347.4L566.8,349.3L568.5,351.1L570.3,352.9L572.2,354.6L574.0,356.3L576.0,357.9L577.9,359.4L580.0,360.9L582.0,362.3L584.1,363.7L586.2,364.9L588.4,366.1L590.7,367.2L592.9,368.2L595.2,369.1L597.6,369.9L599.9,370.6L602.3,371.3L604.8,371.9L607.2,372.4L609.7,372.9L612.2,373.3L614.7,373.7L617.3,374.1L619.8,374.3L622.3,374.6L624.9,374.8L627.4,375.0L630.0,375.2L632.5,375.4L635.1,375.6L637.6,375.7L640.2,375.9L642.7,376.0L645.3,376.1L647.8,376.2L650.3,376.3L652.9,376.3L655.4,376.4L657.9,376.4L660.5,376.5L663.0,376.5L665.5,376.5L668.0,376.5L670.6,376.5L673.1,376.5L675.6,376.5L678.1,376.5L680.7,376.5L683.2,376.4L685.7,376.4L688.2,376.4L690.8,376.3L693.3,376.3L695.8,376.2L698.3,376.2L700.8,376.1L703.4,376.0L705.9,376.0L708.4,375.9L710.9,375.9L713.4,375.8L715.9,375.8L718.5,375.7L721.0,375.6L723.5,375.6L726.0,375.5L728.5,375.5L731.0,375.5L733.6,375.4L736.1,375.4L738.6,375.4L741.1,375.3L743.6,375.3L746.2,375.3L748.7,375.3L751.2,375.3L753.7,375.4L756.2,375.4L758.8,375.4L761.3,375.5L763.8,375.5L766.3,375.6L768.9,375.7L771.4,375.8L773.9,375.9L776.5,376.0L779.0,376.1L781.5,376.3L784.1,376.4L786.6,376.6" fill="none" stroke="#00ffff" stroke-width="3.8" clip-path="url(#clipB)"/>
<clipPath id="clipIB"><rect x="634.1" y="196.8" width="101.7" height="72.7"/></clipPath>
<ellipse cx="552.2" cy="323.7" rx="19.9" ry="23.7" fill="none" stroke="#ff0000" stroke-width="1.2"/>
<line x1="543" y1="302.4" x2="634.1" y2="197.8" stroke="#ff0000" stroke-width="1.2"/>
<line x1="564.3" y1="344.4" x2="734.8" y2="268" stroke="#ff0000" stroke-width="1.2"/>
<rect x="634.1" y="197.8" width="100.7" height="70.2" fill="#fff" stroke="none"/>
<rect x="634.1" y="197.8" width="100.7" height="70.2" fill="none" stroke="#303030" stroke-width="1.4"/>
<line x1="662" y1="268" x2="662" y2="265.8" stroke="#303030" stroke-width="1.35"/>
<line x1="662" y1="197.8" x2="662" y2="200" stroke="#303030" stroke-width="1.35"/>
<text transform="translate(662,300.4) scale(0.970,1)" font-size="22" text-anchor="middle">1.1</text>
<line x1="695.3" y1="268" x2="695.3" y2="265.8" stroke="#303030" stroke-width="1.35"/>
<line x1="695.3" y1="197.8" x2="695.3" y2="200" stroke="#303030" stroke-width="1.35"/>
<text transform="translate(695.3,300.4) scale(0.970,1)" font-size="22" text-anchor="middle">1.15</text>
<line x1="728.3" y1="268" x2="728.3" y2="265.8" stroke="#303030" stroke-width="1.35"/>
<line x1="728.3" y1="197.8" x2="728.3" y2="200" stroke="#303030" stroke-width="1.35"/>
<text transform="translate(728.3,300.4) scale(0.970,1)" font-size="22" text-anchor="middle">1.2</text>
<line x1="634.1" y1="204.5" x2="636.3" y2="204.5" stroke="#303030" stroke-width="1.35"/>
<line x1="734.8" y1="204.5" x2="732.6" y2="204.5" stroke="#303030" stroke-width="1.35"/>
<text transform="translate(624.5,212.3)" font-size="22" text-anchor="end">0.015</text>
<line x1="634.1" y1="227.5" x2="636.3" y2="227.5" stroke="#303030" stroke-width="1.35"/>
<line x1="734.8" y1="227.5" x2="732.6" y2="227.5" stroke="#303030" stroke-width="1.35"/>
<text transform="translate(624.5,235.3)" font-size="22" text-anchor="end">0.014</text>
<line x1="634.1" y1="249.5" x2="636.3" y2="249.5" stroke="#303030" stroke-width="1.35"/>
<line x1="734.8" y1="249.5" x2="732.6" y2="249.5" stroke="#303030" stroke-width="1.35"/>
<text transform="translate(624.5,257.3)" font-size="22" text-anchor="end">0.013</text>
<path d="M658.4,197.8L730.1,268" fill="none" stroke="#ff0000" stroke-width="3.8" stroke-dasharray="2.3,2.4" clip-path="url(#clipIB)"/>
<path d="M649.1,197.8L719.3,268" fill="none" stroke="#00ff00" stroke-width="3.8" stroke-dasharray="9.5,9.5" clip-path="url(#clipIB)"/>
<path d="M638.7,197.8L708.1,268" fill="none" stroke="#0000ff" stroke-width="3.8" stroke-dasharray="9.6,2.5,3.5,2.5" clip-path="url(#clipIB)"/>
<path d="M634.1,202L698.9,268" fill="none" stroke="#00ffff" stroke-width="3.8" clip-path="url(#clipIB)"/>
<line x1="531.6" y1="274.5" x2="523.22" y2="288.6" stroke="#000" stroke-width="1.5"/>
<polygon points="517.7,297.9 520.88,281.29 523.22,288.6 530.76,287.17" fill="#000"/>
<rect x="635.7" y="54.3" width="136.9" height="113.1" fill="#fff" stroke="#303030" stroke-width="1.4"/>
<path d="M644.4,70.2L689.3,70.2" fill="none" stroke="#ff0000" stroke-width="3.6" stroke-dasharray="2.3,2.4"/>
<text transform="translate(693,78.5) scale(0.930,1)" font-size="22.4" text-anchor="start" xml:space="preserve">We = 1.0</text>
<path d="M644.4,97.4L689.3,97.4" fill="none" stroke="#00ff00" stroke-width="3.6" stroke-dasharray="9.5,9.5"/>
<text transform="translate(693,105.2) scale(0.930,1)" font-size="22.4" text-anchor="start" xml:space="preserve">We = 3.0</text>
<path d="M644.4,124.3L689.3,124.3" fill="none" stroke="#0000ff" stroke-width="3.6" stroke-dasharray="9.6,2.5,3.5,2.5"/>
<text transform="translate(693,132) scale(0.930,1)" font-size="22.4" text-anchor="start" xml:space="preserve">We = 5.0</text>
<path d="M644.4,151.1L689.3,151.1" fill="none" stroke="#00ffff" stroke-width="3.6"/>
<text transform="translate(693,158.9) scale(0.930,1)" font-size="22.4" text-anchor="start" xml:space="preserve">We = 7.0</text>
<clipPath id="clipC"><rect x="102.5" y="494.8" width="313.2" height="412.7"/></clipPath>
<text class="pl" transform="translate(2.7,487.3) scale(0.950,1)" font-size="43.4">C</text>
<line x1="165.14" y1="495.3" x2="165.14" y2="906" stroke="#dfdfdf" stroke-width="1"/>
<line x1="227.28" y1="495.3" x2="227.28" y2="906" stroke="#dfdfdf" stroke-width="1"/>
<line x1="289.42" y1="495.3" x2="289.42" y2="906" stroke="#dfdfdf" stroke-width="1"/>
<line x1="351.56" y1="495.3" x2="351.56" y2="906" stroke="#dfdfdf" stroke-width="1"/>
<line x1="103" y1="823.86" x2="413.7" y2="823.86" stroke="#dfdfdf" stroke-width="1"/>
<line x1="103" y1="741.72" x2="413.7" y2="741.72" stroke="#dfdfdf" stroke-width="1"/>
<line x1="103" y1="659.58" x2="413.7" y2="659.58" stroke="#dfdfdf" stroke-width="1"/>
<line x1="103" y1="577.44" x2="413.7" y2="577.44" stroke="#dfdfdf" stroke-width="1"/>
<rect x="103" y="495.3" width="310.7" height="410.7" fill="none" stroke="#303030" stroke-width="1.5"/>
<text transform="translate(103,942) scale(0.840,1)" font-size="29" text-anchor="middle">0</text>
<line x1="165.14" y1="906" x2="165.14" y2="901.5" stroke="#303030" stroke-width="1.35"/>
<line x1="165.14" y1="495.3" x2="165.14" y2="499.8" stroke="#303030" stroke-width="1.35"/>
<text transform="translate(165.14,942) scale(0.840,1)" font-size="29" text-anchor="middle">1</text>
<line x1="227.28" y1="906" x2="227.28" y2="901.5" stroke="#303030" stroke-width="1.35"/>
<line x1="227.28" y1="495.3" x2="227.28" y2="499.8" stroke="#303030" stroke-width="1.35"/>
<text transform="translate(227.28,942) scale(0.840,1)" font-size="29" text-anchor="middle">2</text>
<line x1="289.42" y1="906" x2="289.42" y2="901.5" stroke="#303030" stroke-width="1.35"/>
<line x1="289.42" y1="495.3" x2="289.42" y2="499.8" stroke="#303030" stroke-width="1.35"/>
<text transform="translate(289.42,942) scale(0.840,1)" font-size="29" text-anchor="middle">3</text>
<line x1="351.56" y1="906" x2="351.56" y2="901.5" stroke="#303030" stroke-width="1.35"/>
<line x1="351.56" y1="495.3" x2="351.56" y2="499.8" stroke="#303030" stroke-width="1.35"/>
<text transform="translate(351.56,942) scale(0.840,1)" font-size="29" text-anchor="middle">4</text>
<text transform="translate(413.7,942) scale(0.840,1)" font-size="29" text-anchor="middle">5</text>
<text transform="translate(94.5,916.5) scale(0.840,1)" font-size="29" text-anchor="end">0</text>
<line x1="103" y1="823.86" x2="107.5" y2="823.86" stroke="#303030" stroke-width="1.35"/>
<line x1="413.7" y1="823.86" x2="409.2" y2="823.86" stroke="#303030" stroke-width="1.35"/>
<text transform="translate(94.5,834.36) scale(0.840,1)" font-size="29" text-anchor="end">0.2</text>
<line x1="103" y1="741.72" x2="107.5" y2="741.72" stroke="#303030" stroke-width="1.35"/>
<line x1="413.7" y1="741.72" x2="409.2" y2="741.72" stroke="#303030" stroke-width="1.35"/>
<text transform="translate(94.5,752.22) scale(0.840,1)" font-size="29" text-anchor="end">0.4</text>
<line x1="103" y1="659.58" x2="107.5" y2="659.58" stroke="#303030" stroke-width="1.35"/>
<line x1="413.7" y1="659.58" x2="409.2" y2="659.58" stroke="#303030" stroke-width="1.35"/>
<text transform="translate(94.5,670.08) scale(0.840,1)" font-size="29" text-anchor="end">0.6</text>
<line x1="103" y1="577.44" x2="107.5" y2="577.44" stroke="#303030" stroke-width="1.35"/>
<line x1="413.7" y1="577.44" x2="409.2" y2="577.44" stroke="#303030" stroke-width="1.35"/>
<text transform="translate(94.5,587.94) scale(0.840,1)" font-size="29" text-anchor="end">0.8</text>
<text transform="translate(94.5,505.8) scale(0.840,1)" font-size="29" text-anchor="end">1</text>
<text transform="translate(263.2,975.6) scale(1.085,1)" font-size="26" text-anchor="middle"><tspan class="g">η</tspan></text>
<text transform="translate(54,699.2) scale(0.770,1) rotate(-90)" font-size="30" text-anchor="middle" xml:space="preserve"><tspan class="g">ϕ</tspan>(<tspan class="g">η</tspan>)</text>
<path d="M103.3,495.5L103.7,498.0L104.0,500.4L104.4,502.9L104.7,505.4L105.1,507.9L105.4,510.4L105.8,512.8L106.1,515.3L106.5,517.8L106.8,520.3L107.2,522.8L107.5,525.3L107.8,527.7L108.2,530.2L108.5,532.7L108.8,535.2L109.1,537.7L109.5,540.2L109.8,542.7L110.1,545.2L110.4,547.7L110.8,550.2L111.1,552.7L111.4,555.2L111.7,557.7L112.0,560.2L112.3,562.7L112.7,565.2L113.0,567.7L113.3,570.2L113.6,572.7L113.9,575.2L114.2,577.7L114.5,580.2L114.8,582.7L115.1,585.2L115.4,587.7L115.8,590.2L116.1,592.7L116.4,595.2L116.7,597.7L117.0,600.2L117.3,602.7L117.6,605.2L117.9,607.7L118.2,610.2L118.5,612.7L118.8,615.2L119.1,617.7L119.4,620.2L119.7,622.7L120.1,625.2L120.4,627.7L120.7,630.2L121.0,632.7L121.3,635.2L121.6,637.7L121.9,640.2L122.2,642.7L122.6,645.2L122.9,647.7L123.2,650.2L123.5,652.7L123.8,655.2L124.2,657.7L124.5,660.2L124.8,662.7L125.1,665.2L125.5,667.7L125.8,670.2L126.1,672.7L126.5,675.2L126.8,677.7L127.1,680.1L127.5,682.6L127.8,685.1L128.2,687.6L128.5,690.1L128.9,692.6L129.2,695.1L129.6,697.5L129.9,700.0L130.3,702.5L130.7,705.0L131.0,707.5L131.4,709.9L131.8,712.4L132.2,714.9L132.5,717.3L132.9,719.8L133.3,722.3L133.7,724.7L134.1,727.2L134.5,729.7L134.9,732.1L135.3,734.6L135.7,737.0L136.1,739.5L136.5,742.0L136.9,744.4L137.3,746.9L137.8,749.3L138.2,751.8L138.6,754.2L139.1,756.7L139.5,759.1L140.0,761.5L140.4,764.0L140.9,766.4L141.4,768.9L141.9,771.3L142.4,773.8L142.9,776.2L143.4,778.6L143.9,781.1L144.4,783.5L145.0,786.0L145.5,788.4L146.1,790.9L146.7,793.3L147.3,795.8L147.9,798.2L148.5,800.7L149.1,803.1L149.8,805.6L150.4,808.0L151.1,810.5L151.8,813.0L152.5,815.4L153.2,817.9L154.0,820.4L154.7,822.9L155.5,825.3L156.3,827.8L157.1,830.3L157.9,832.8L158.8,835.2L159.7,837.7L160.6,840.1L161.6,842.5L162.6,844.9L163.6,847.3L164.7,849.6L165.8,852.0L167.0,854.2L168.3,856.5L169.6,858.7L170.9,860.9L172.3,863.0L173.7,865.1L175.2,867.1L176.8,869.1L178.4,871.0L180.0,872.8L181.7,874.6L183.5,876.3L185.3,877.9L187.1,879.5L189.0,880.9L190.9,882.3L192.9,883.7L194.9,884.9L197.0,886.1L199.1,887.2L201.2,888.3L203.4,889.3L205.6,890.2L207.9,891.1L210.1,891.9L212.4,892.7L214.8,893.4L217.1,894.0L219.5,894.6L221.9,895.2L224.4,895.7L226.8,896.2L229.3,896.7L231.8,897.1L234.3,897.4L236.9,897.8L239.4,898.1L242.0,898.3L244.5,898.6L247.1,898.8L249.7,899.0L252.3,899.2L254.9,899.3L257.5,899.5L260.1,899.6L262.8,899.7L265.4,899.8L268.0,899.9L270.6,900.0L273.2,900.0L275.8,900.1L278.4,900.2L281.0,900.3L283.5,900.3L286.1,900.4L288.6,900.5L291.2,900.6L293.7,900.7L296.2,900.8L298.8,900.9L301.3,901.0L303.8,901.1L306.3,901.2L308.8,901.3L311.2,901.4L313.7,901.5L316.2,901.6L318.7,901.7L321.1,901.9L323.6,902.0L326.0,902.1L328.5,902.2L330.9,902.3L333.4,902.4L335.8,902.6L338.3,902.7L340.7,902.8L343.2,902.9L345.6,903.0L348.1,903.1L350.5,903.2L353.0,903.3L355.4,903.4L357.9,903.6L360.4,903.7L362.8,903.7L365.3,903.8L367.8,903.9L370.3,904.0L372.8,904.1L375.2,904.2L377.7,904.3L380.3,904.3L382.8,904.4L385.3,904.5L387.8,904.5L390.4,904.6L392.9,904.6L395.5,904.7L398.0,904.7L400.6,904.7L403.2,904.8L405.8,904.8L408.4,904.8L411.1,904.8L413.7,904.8" fill="none" stroke="#ff0000" stroke-width="4.3" stroke-dasharray="2.3,2.4" clip-path="url(#clipC)"/>
<path d="M103.3,495.5L103.6,498.0L104.0,500.5L104.3,502.9L104.7,505.4L105.0,507.9L105.3,510.4L105.7,512.9L106.0,515.4L106.3,517.8L106.6,520.3L107.0,522.8L107.3,525.3L107.6,527.8L107.9,530.3L108.2,532.8L108.6,535.3L108.9,537.8L109.2,540.3L109.5,542.8L109.8,545.3L110.1,547.8L110.4,550.3L110.7,552.8L111.1,555.3L111.4,557.8L111.7,560.3L112.0,562.8L112.3,565.3L112.6,567.8L112.9,570.3L113.2,572.8L113.5,575.3L113.8,577.8L114.1,580.3L114.4,582.8L114.7,585.3L115.0,587.8L115.3,590.3L115.6,592.8L115.9,595.3L116.2,597.8L116.5,600.4L116.8,602.9L117.1,605.4L117.5,607.9L117.8,610.4L118.1,612.9L118.4,615.4L118.7,617.9L119.0,620.4L119.3,622.9L119.6,625.4L119.9,627.9L120.2,630.4L120.5,632.9L120.8,635.4L121.2,637.9L121.5,640.4L121.8,642.9L122.1,645.4L122.4,647.9L122.8,650.4L123.1,652.9L123.4,655.4L123.7,657.9L124.1,660.4L124.4,662.9L124.7,665.4L125.0,667.9L125.4,670.4L125.7,672.9L126.0,675.4L126.4,677.9L126.7,680.4L127.1,682.9L127.4,685.4L127.8,687.9L128.1,690.3L128.5,692.8L128.8,695.3L129.2,697.8L129.5,700.3L129.9,702.8L130.3,705.2L130.6,707.7L131.0,710.2L131.4,712.7L131.8,715.1L132.1,717.6L132.5,720.1L132.9,722.6L133.3,725.0L133.7,727.5L134.1,730.0L134.5,732.4L134.9,734.9L135.3,737.3L135.7,739.8L136.1,742.3L136.5,744.7L137.0,747.2L137.4,749.6L137.8,752.1L138.2,754.5L138.7,757.0L139.1,759.4L139.6,761.9L140.1,764.3L140.5,766.8L141.0,769.2L141.5,771.7L142.0,774.1L142.5,776.5L143.0,779.0L143.5,781.4L144.0,783.9L144.6,786.3L145.1,788.8L145.7,791.2L146.3,793.7L146.9,796.1L147.5,798.6L148.1,801.1L148.7,803.5L149.4,806.0L150.0,808.4L150.7,810.9L151.4,813.4L152.1,815.8L152.8,818.3L153.6,820.8L154.3,823.3L155.1,825.7L155.9,828.2L156.7,830.7L157.5,833.2L158.4,835.6L159.3,838.1L160.2,840.5L161.2,842.9L162.2,845.3L163.3,847.7L164.4,850.0L165.5,852.4L166.7,854.6L167.9,856.9L169.2,859.1L170.6,861.3L172.0,863.4L173.4,865.5L174.9,867.5L176.5,869.5L178.1,871.4L179.7,873.2L181.4,875.0L183.2,876.7L185.0,878.3L186.8,879.8L188.7,881.3L190.7,882.7L192.6,884.0L194.7,885.3L196.7,886.5L198.8,887.6L201.0,888.6L203.2,889.6L205.4,890.6L207.6,891.4L209.9,892.3L212.2,893.0L214.5,893.7L216.9,894.4L219.3,895.0L221.7,895.6L224.2,896.1L226.6,896.6L229.1,897.0L231.6,897.4L234.1,897.8L236.7,898.1L239.2,898.4L241.8,898.7L244.4,899.0L246.9,899.2L249.5,899.4L252.1,899.5L254.7,899.7L257.4,899.8L260.0,900.0L262.6,900.1L265.2,900.2L267.8,900.2L270.4,900.3L273.0,900.4L275.6,900.5L278.2,900.5L280.8,900.6L283.4,900.7L285.9,900.8L288.5,900.8L291.0,900.9L293.6,901.0L296.1,901.1L298.6,901.2L301.1,901.3L303.6,901.4L306.1,901.5L308.6,901.6L311.1,901.7L313.6,901.8L316.1,901.9L318.5,902.0L321.0,902.1L323.5,902.2L325.9,902.3L328.4,902.4L330.8,902.5L333.3,902.6L335.8,902.7L338.2,902.8L340.7,902.9L343.1,903.0L345.6,903.1L348.0,903.2L350.5,903.3L352.9,903.4L355.4,903.5L357.9,903.6L360.3,903.7L362.8,903.8L365.3,903.9L367.7,903.9L370.2,904.0L372.7,904.1L375.2,904.2L377.7,904.2L380.2,904.3L382.7,904.4L385.3,904.4L387.8,904.5L390.3,904.5L392.9,904.6L395.5,904.6L398.0,904.7L400.6,904.7L403.2,904.7L405.8,904.8L408.4,904.8L411.1,904.8L413.7,904.8" fill="none" stroke="#0000ff" stroke-width="4.3" stroke-dasharray="9.6,2.5,3.5,2.5" clip-path="url(#clipC)"/>
<path d="M103.3,495.5L103.6,498.0L103.9,500.5L104.2,503.0L104.5,505.4L104.8,507.9L105.2,510.4L105.5,512.9L105.8,515.4L106.1,517.9L106.4,520.4L106.7,522.9L107.0,525.4L107.3,527.9L107.6,530.4L107.9,532.9L108.2,535.4L108.5,537.9L108.8,540.4L109.1,542.9L109.4,545.4L109.7,547.9L110.0,550.4L110.3,552.9L110.5,555.4L110.8,557.9L111.1,560.4L111.4,562.9L111.7,565.4L112.0,568.0L112.3,570.5L112.6,573.0L112.9,575.5L113.2,578.0L113.5,580.5L113.8,583.0L114.1,585.5L114.4,588.0L114.7,590.5L115.0,593.0L115.3,595.6L115.6,598.1L115.9,600.6L116.2,603.1L116.5,605.6L116.8,608.1L117.1,610.6L117.4,613.1L117.7,615.6L118.0,618.1L118.3,620.6L118.6,623.2L118.9,625.7L119.3,628.2L119.6,630.7L119.9,633.2L120.2,635.7L120.5,638.2L120.8,640.7L121.1,643.2L121.5,645.7L121.8,648.2L122.1,650.7L122.4,653.2L122.8,655.7L123.1,658.2L123.4,660.7L123.7,663.2L124.1,665.7L124.4,668.2L124.7,670.7L125.1,673.2L125.4,675.7L125.8,678.2L126.1,680.7L126.5,683.2L126.8,685.7L127.2,688.2L127.5,690.7L127.9,693.2L128.2,695.6L128.6,698.1L129.0,700.6L129.3,703.1L129.7,705.6L130.1,708.1L130.4,710.5L130.8,713.0L131.2,715.5L131.6,718.0L132.0,720.4L132.4,722.9L132.7,725.4L133.1,727.9L133.5,730.3L133.9,732.8L134.3,735.3L134.7,737.7L135.2,740.2L135.6,742.7L136.0,745.1L136.4,747.6L136.8,750.0L137.3,752.5L137.7,754.9L138.1,757.4L138.6,759.8L139.0,762.3L139.5,764.7L140.0,767.2L140.4,769.6L140.9,772.1L141.4,774.5L141.9,777.0L142.4,779.4L143.0,781.9L143.5,784.3L144.0,786.8L144.6,789.3L145.1,791.7L145.7,794.2L146.3,796.6L146.9,799.1L147.5,801.5L148.2,804.0L148.8,806.5L149.5,808.9L150.1,811.4L150.8,813.9L151.5,816.3L152.3,818.8L153.0,821.3L153.8,823.8L154.5,826.3L155.3,828.7L156.2,831.2L157.0,833.7L157.9,836.1L158.8,838.6L159.7,841.0L160.7,843.5L161.7,845.9L162.8,848.2L163.9,850.6L165.0,852.9L166.2,855.2L167.5,857.4L168.8,859.6L170.1,861.8L171.5,863.9L173.0,866.0L174.5,868.0L176.0,869.9L177.7,871.8L179.3,873.7L181.0,875.4L182.8,877.1L184.6,878.7L186.4,880.3L188.3,881.8L190.3,883.1L192.3,884.5L194.3,885.7L196.4,886.9L198.5,888.0L200.6,889.1L202.8,890.0L205.1,891.0L207.3,891.8L209.6,892.7L211.9,893.4L214.3,894.1L216.6,894.8L219.0,895.4L221.4,896.0L223.9,896.5L226.4,897.0L228.8,897.4L231.4,897.8L233.9,898.2L236.4,898.5L239.0,898.8L241.5,899.1L244.1,899.3L246.7,899.6L249.3,899.7L251.9,899.9L254.5,900.1L257.1,900.2L259.8,900.3L262.4,900.4L265.0,900.5L267.6,900.6L270.2,900.7L272.8,900.8L275.4,900.8L278.0,900.9L280.6,901.0L283.2,901.0L285.8,901.1L288.3,901.2L290.9,901.3L293.4,901.3L295.9,901.4L298.5,901.5L301.0,901.6L303.5,901.7L306.0,901.7L308.5,901.8L311.0,901.9L313.5,902.0L315.9,902.1L318.4,902.2L320.9,902.3L323.3,902.4L325.8,902.5L328.3,902.6L330.7,902.7L333.2,902.7L335.6,902.8L338.1,902.9L340.6,903.0L343.0,903.1L345.5,903.2L347.9,903.3L350.4,903.4L352.9,903.5L355.3,903.6L357.8,903.6L360.3,903.7L362.7,903.8L365.2,903.9L367.7,903.9L370.2,904.0L372.7,904.1L375.2,904.2L377.7,904.2L380.2,904.3L382.7,904.4L385.2,904.4L387.8,904.5L390.3,904.5L392.9,904.6L395.4,904.6L398.0,904.6L400.6,904.7L403.2,904.7L405.8,904.7L408.4,904.8L411.1,904.8L413.7,904.8" fill="none" stroke="#00ff00" stroke-width="4.3" stroke-dasharray="9.5,9.5" clip-path="url(#clipC)"/>
<path d="M103.3,495.5L103.6,498.0L103.9,500.5L104.1,503.0L104.4,505.4L104.7,507.9L105.0,510.4L105.3,512.9L105.5,515.4L105.8,517.9L106.1,520.4L106.4,522.9L106.7,525.4L106.9,527.8L107.2,530.3L107.5,532.8L107.8,535.3L108.1,537.8L108.3,540.3L108.6,542.8L108.9,545.3L109.2,547.8L109.5,550.3L109.7,552.8L110.0,555.3L110.3,557.8L110.6,560.3L110.9,562.8L111.2,565.3L111.4,567.8L111.7,570.3L112.0,572.8L112.3,575.3L112.6,577.8L112.9,580.3L113.2,582.8L113.4,585.3L113.7,587.8L114.0,590.4L114.3,592.9L114.6,595.4L114.9,597.9L115.2,600.4L115.5,602.9L115.8,605.4L116.1,607.9L116.4,610.4L116.7,612.9L117.0,615.4L117.3,617.9L117.6,620.4L117.9,622.9L118.2,625.4L118.5,627.9L118.8,630.4L119.1,632.9L119.5,635.4L119.8,637.9L120.1,640.4L120.4,642.9L120.7,645.4L121.0,647.9L121.4,650.4L121.7,652.9L122.0,655.4L122.4,657.9L122.7,660.4L123.0,662.8L123.3,665.3L123.7,667.8L124.0,670.3L124.4,672.8L124.7,675.3L125.0,677.8L125.4,680.3L125.7,682.8L126.1,685.2L126.4,687.7L126.8,690.2L127.2,692.7L127.5,695.2L127.9,697.7L128.2,700.1L128.6,702.6L129.0,705.1L129.4,707.6L129.7,710.0L130.1,712.5L130.5,715.0L130.9,717.5L131.3,719.9L131.6,722.4L132.0,724.9L132.4,727.3L132.8,729.8L133.2,732.2L133.6,734.7L134.0,737.2L134.4,739.6L134.9,742.1L135.3,744.5L135.7,747.0L136.1,749.4L136.5,751.9L137.0,754.3L137.4,756.8L137.8,759.2L138.3,761.7L138.7,764.1L139.2,766.6L139.7,769.0L140.2,771.4L140.6,773.9L141.1,776.3L141.6,778.8L142.2,781.2L142.7,783.7L143.2,786.1L143.8,788.6L144.3,791.0L144.9,793.5L145.5,795.9L146.1,798.4L146.7,800.8L147.3,803.3L147.9,805.7L148.6,808.2L149.2,810.6L149.9,813.1L150.6,815.6L151.3,818.0L152.1,820.5L152.8,823.0L153.6,825.4L154.4,827.9L155.2,830.4L156.0,832.9L156.9,835.3L157.7,837.8L158.7,840.2L159.6,842.6L160.6,845.0L161.7,847.4L162.7,849.8L163.9,852.1L165.0,854.4L166.2,856.6L167.5,858.8L168.8,861.0L170.2,863.2L171.7,865.2L173.1,867.3L174.7,869.3L176.2,871.2L177.9,873.0L179.6,874.8L181.3,876.6L183.1,878.2L184.9,879.8L186.8,881.3L188.7,882.7L190.6,884.1L192.6,885.3L194.7,886.6L196.8,887.7L198.9,888.8L201.1,889.8L203.3,890.8L205.5,891.7L207.7,892.5L210.0,893.3L212.4,894.1L214.7,894.8L217.1,895.4L219.5,896.0L221.9,896.5L224.4,897.0L226.8,897.5L229.3,897.9L231.8,898.3L234.4,898.7L236.9,899.0L239.4,899.3L242.0,899.5L244.6,899.8L247.2,900.0L249.8,900.2L252.4,900.3L255.0,900.5L257.6,900.6L260.2,900.7L262.8,900.8L265.4,900.9L268.0,901.0L270.6,901.1L273.2,901.1L275.8,901.2L278.4,901.3L281.0,901.3L283.6,901.4L286.1,901.4L288.7,901.5L291.2,901.6L293.7,901.7L296.2,901.7L298.8,901.8L301.3,901.9L303.8,902.0L306.3,902.0L308.7,902.1L311.2,902.2L313.7,902.3L316.2,902.3L318.6,902.4L321.1,902.5L323.6,902.6L326.0,902.7L328.5,902.7L330.9,902.8L333.4,902.9L335.8,903.0L338.3,903.1L340.7,903.2L343.2,903.2L345.6,903.3L348.1,903.4L350.6,903.5L353.0,903.5L355.5,903.6L357.9,903.7L360.4,903.8L362.9,903.8L365.3,903.9L367.8,904.0L370.3,904.0L372.8,904.1L375.3,904.2L377.8,904.2L380.3,904.3L382.8,904.3L385.3,904.4L387.8,904.4L390.4,904.5L392.9,904.5L395.5,904.6L398.1,904.6L400.6,904.7L403.2,904.7L405.8,904.7L408.4,904.8L411.1,904.8L413.7,904.8" fill="none" stroke="#00ffff" stroke-width="4.3" clip-path="url(#clipC)"/>
<clipPath id="clipIC"><rect x="280" y="688.8" width="107" height="101.45"/></clipPath>
<ellipse cx="181.5" cy="870.5" rx="22.1" ry="28.9" fill="none" stroke="#ff0000" stroke-width="1.2"/>
<line x1="170.8" y1="844.2" x2="280" y2="689.8" stroke="#ff0000" stroke-width="1.2"/>
<line x1="195.8" y1="893.1" x2="386" y2="788.75" stroke="#ff0000" stroke-width="1.2"/>
<rect x="280" y="689.8" width="106" height="98.95" fill="#fff" stroke="none"/>
<rect x="280" y="689.8" width="106" height="98.95" fill="none" stroke="#303030" stroke-width="1.4"/>
<line x1="289.8" y1="788.75" x2="289.8" y2="786.55" stroke="#303030" stroke-width="1.35"/>
<line x1="289.8" y1="689.8" x2="289.8" y2="692" stroke="#303030" stroke-width="1.35"/>
<text transform="translate(289.8,825.2) scale(0.870,1)" font-size="26.4" text-anchor="middle">1.15</text>
<line x1="323.5" y1="788.75" x2="323.5" y2="786.55" stroke="#303030" stroke-width="1.35"/>
<line x1="323.5" y1="689.8" x2="323.5" y2="692" stroke="#303030" stroke-width="1.35"/>
<text transform="translate(323.5,825.2) scale(0.870,1)" font-size="26.4" text-anchor="middle">1.2</text>
<line x1="357.5" y1="788.75" x2="357.5" y2="786.55" stroke="#303030" stroke-width="1.35"/>
<line x1="357.5" y1="689.8" x2="357.5" y2="692" stroke="#303030" stroke-width="1.35"/>
<text transform="translate(357.5,825.2) scale(0.870,1)" font-size="26.4" text-anchor="middle">1.25</text>
<line x1="280" y1="702.3" x2="282.2" y2="702.3" stroke="#303030" stroke-width="1.35"/>
<line x1="386" y1="702.3" x2="383.8" y2="702.3" stroke="#303030" stroke-width="1.35"/>
<text transform="translate(270.8,712.3) scale(0.870,1)" font-size="26.4" text-anchor="end">0.09</text>
<line x1="280" y1="733.8" x2="282.2" y2="733.8" stroke="#303030" stroke-width="1.35"/>
<line x1="386" y1="733.8" x2="383.8" y2="733.8" stroke="#303030" stroke-width="1.35"/>
<text transform="translate(270.8,743.8) scale(0.870,1)" font-size="26.4" text-anchor="end">0.08</text>
<line x1="280" y1="765.8" x2="282.2" y2="765.8" stroke="#303030" stroke-width="1.35"/>
<line x1="386" y1="765.8" x2="383.8" y2="765.8" stroke="#303030" stroke-width="1.35"/>
<text transform="translate(270.8,775.8) scale(0.870,1)" font-size="26.4" text-anchor="end">0.07</text>
<path d="M309.2,689.8L310.9,691.8L312.6,693.7L314.4,695.6L316.2,697.6L317.9,699.5L319.7,701.3L321.5,703.2L323.3,705.1L325.1,706.9L327.0,708.7L328.8,710.5L330.7,712.3L332.6,714.1L334.5,715.9L336.4,717.6L338.3,719.3L340.2,721.1L342.1,722.8L344.1,724.4L346.1,726.1L348.1,727.8L350.0,729.4L352.1,731.0L354.1,732.6L356.1,734.2L358.2,735.8L360.2,737.3L362.3,738.9L364.4,740.4L366.5,741.9L368.6,743.4L370.7,744.9L372.9,746.3L375.0,747.8L377.2,749.2L379.4,750.6L381.6,752.0L383.8,753.4L386.0,754.8" fill="none" stroke="#ff0000" stroke-width="4.3" stroke-dasharray="2.3,2.4" clip-path="url(#clipIC)"/>
<path d="M295.0,689.8L296.8,691.6L298.7,693.5L300.5,695.3L302.4,697.1L304.2,698.9L306.1,700.7L308.0,702.5L309.8,704.3L311.7,706.0L313.6,707.8L315.5,709.6L317.4,711.3L319.3,713.1L321.2,714.8L323.2,716.5L325.1,718.2L327.0,719.9L329.0,721.7L330.9,723.3L332.9,725.0L334.8,726.7L336.8,728.4L338.8,730.1L340.8,731.7L342.8,733.4L344.7,735.0L346.7,736.6L348.8,738.3L350.8,739.9L352.8,741.5L354.8,743.1L356.9,744.7L358.9,746.3L360.9,747.9L363.0,749.4L365.0,751.0L367.1,752.6L369.2,754.1L371.3,755.7L373.4,757.2L375.4,758.7L377.5,760.2L379.6,761.8L381.8,763.3L383.9,764.8L386.0,766.2" fill="none" stroke="#0000ff" stroke-width="4.3" stroke-dasharray="9.6,2.5,3.5,2.5" clip-path="url(#clipIC)"/>
<path d="M280.0,691.9L281.8,693.7L283.7,695.6L285.5,697.4L287.4,699.2L289.3,701.0L291.1,702.8L293.0,704.6L294.9,706.4L296.8,708.1L298.7,709.9L300.6,711.7L302.5,713.4L304.4,715.2L306.3,716.9L308.3,718.6L310.2,720.4L312.1,722.1L314.1,723.8L316.0,725.5L318.0,727.2L319.9,728.9L321.9,730.6L323.9,732.2L325.9,733.9L327.9,735.6L329.9,737.2L331.9,738.9L333.9,740.5L335.9,742.1L337.9,743.7L339.9,745.4L341.9,747.0L344.0,748.6L346.0,750.2L348.1,751.7L350.1,753.3L352.2,754.9L354.3,756.4L356.3,758.0L358.4,759.5L360.5,761.1L362.6,762.6L364.7,764.1L366.8,765.7L368.9,767.2L371.0,768.7L373.1,770.2L375.3,771.7L377.4,773.1L379.5,774.6L381.7,776.1L383.8,777.5L386.0,779.0" fill="none" stroke="#00ff00" stroke-width="4.3" stroke-dasharray="9.5,9.5" clip-path="url(#clipIC)"/>
<path d="M280.0,709.6L281.8,711.4L283.7,713.2L285.5,715.0L287.4,716.7L289.3,718.5L291.1,720.3L293.0,722.0L294.9,723.7L296.8,725.5L298.7,727.2L300.6,728.9L302.5,730.6L304.5,732.3L306.4,734.0L308.3,735.7L310.3,737.3L312.2,739.0L314.2,740.6L316.1,742.3L318.1,743.9L320.1,745.5L322.1,747.1L324.0,748.7L326.0,750.3L328.1,751.9L330.1,753.5L332.1,755.1L334.1,756.6L336.1,758.2L338.2,759.7L340.2,761.3L342.3,762.8L344.3,764.3L346.4,765.8L348.5,767.3L350.6,768.8L352.6,770.3L354.7,771.8L356.8,773.2L358.9,774.7L361.1,776.1L363.2,777.6L365.3,779.0L367.4,780.4L369.6,781.8L371.7,783.2L373.9,784.6L376.1,786.0L378.2,787.4L380.4,788.8" fill="none" stroke="#00ffff" stroke-width="4.3" clip-path="url(#clipIC)"/>
<line x1="155.1" y1="824.2" x2="143.33" y2="838.76" stroke="#000" stroke-width="1.5"/>
<polygon points="135.7,848.2 141.74,831.1 143.33,838.76 151.15,838.7" fill="#000"/>
<rect x="254.6" y="512.5" width="144.15" height="126.7" fill="#fff" stroke="#303030" stroke-width="1.4"/>
<path d="M263.5,530.8L310.8,530.8" fill="none" stroke="#ff0000" stroke-width="3.8" stroke-dasharray="2.3,2.4"/>
<text transform="translate(314.5,539.6) scale(0.910,1)" font-size="24.3" text-anchor="start" xml:space="preserve">We = 1.0</text>
<path d="M263.5,561L310.8,561" fill="none" stroke="#0000ff" stroke-width="3.8" stroke-dasharray="9.6,2.5,3.5,2.5"/>
<text transform="translate(314.5,569.8) scale(0.910,1)" font-size="24.3" text-anchor="start" xml:space="preserve">We = 3.0</text>
<path d="M263.5,591L310.8,591" fill="none" stroke="#00ff00" stroke-width="3.8" stroke-dasharray="9.5,9.5"/>
<text transform="translate(314.5,600) scale(0.910,1)" font-size="24.3" text-anchor="start" xml:space="preserve">We = 5.0</text>
<path d="M263.5,621.25L310.8,621.25" fill="none" stroke="#00ffff" stroke-width="3.8"/>
<text transform="translate(314.5,630.2) scale(0.910,1)" font-size="24.3" text-anchor="start" xml:space="preserve">We = 7.0</text>
<clipPath id="clipD"><rect x="550.2" y="497.7" width="307.6" height="417.8"/></clipPath>
<text class="pl" transform="translate(446.65,487.5) scale(0.940,1)" font-size="43.4">D</text>
<line x1="611.72" y1="498.2" x2="611.72" y2="914" stroke="#dfdfdf" stroke-width="1"/>
<line x1="672.74" y1="498.2" x2="672.74" y2="914" stroke="#dfdfdf" stroke-width="1"/>
<line x1="733.76" y1="498.2" x2="733.76" y2="914" stroke="#dfdfdf" stroke-width="1"/>
<line x1="794.78" y1="498.2" x2="794.78" y2="914" stroke="#dfdfdf" stroke-width="1"/>
<line x1="550.7" y1="830.84" x2="855.8" y2="830.84" stroke="#dfdfdf" stroke-width="1"/>
<line x1="550.7" y1="747.68" x2="855.8" y2="747.68" stroke="#dfdfdf" stroke-width="1"/>
<line x1="550.7" y1="664.52" x2="855.8" y2="664.52" stroke="#dfdfdf" stroke-width="1"/>
<line x1="550.7" y1="581.36" x2="855.8" y2="581.36" stroke="#dfdfdf" stroke-width="1"/>
<rect x="550.7" y="498.2" width="305.1" height="415.8" fill="none" stroke="#303030" stroke-width="1.5"/>
<text transform="translate(550.7,945.8) scale(0.960,1)" font-size="25" text-anchor="middle">0</text>
<line x1="611.72" y1="914" x2="611.72" y2="909.5" stroke="#303030" stroke-width="1.35"/>
<line x1="611.72" y1="498.2" x2="611.72" y2="502.7" stroke="#303030" stroke-width="1.35"/>
<text transform="translate(611.72,945.8) scale(0.960,1)" font-size="25" text-anchor="middle">1</text>
<line x1="672.74" y1="914" x2="672.74" y2="909.5" stroke="#303030" stroke-width="1.35"/>
<line x1="672.74" y1="498.2" x2="672.74" y2="502.7" stroke="#303030" stroke-width="1.35"/>
<text transform="translate(672.74,945.8) scale(0.960,1)" font-size="25" text-anchor="middle">2</text>
<line x1="733.76" y1="914" x2="733.76" y2="909.5" stroke="#303030" stroke-width="1.35"/>
<line x1="733.76" y1="498.2" x2="733.76" y2="502.7" stroke="#303030" stroke-width="1.35"/>
<text transform="translate(733.76,945.8) scale(0.960,1)" font-size="25" text-anchor="middle">3</text>
<line x1="794.78" y1="914" x2="794.78" y2="909.5" stroke="#303030" stroke-width="1.35"/>
<line x1="794.78" y1="498.2" x2="794.78" y2="502.7" stroke="#303030" stroke-width="1.35"/>
<text transform="translate(794.78,945.8) scale(0.960,1)" font-size="25" text-anchor="middle">4</text>
<text transform="translate(855.8,945.8) scale(0.960,1)" font-size="25" text-anchor="middle">5</text>
<text transform="translate(541.9,923.2) scale(0.960,1)" font-size="25" text-anchor="end">0</text>
<line x1="550.7" y1="830.84" x2="555.2" y2="830.84" stroke="#303030" stroke-width="1.35"/>
<line x1="855.8" y1="830.84" x2="851.3" y2="830.84" stroke="#303030" stroke-width="1.35"/>
<text transform="translate(541.9,840.04) scale(0.960,1)" font-size="25" text-anchor="end">0.2</text>
<line x1="550.7" y1="747.68" x2="555.2" y2="747.68" stroke="#303030" stroke-width="1.35"/>
<line x1="855.8" y1="747.68" x2="851.3" y2="747.68" stroke="#303030" stroke-width="1.35"/>
<text transform="translate(541.9,756.88) scale(0.960,1)" font-size="25" text-anchor="end">0.4</text>
<line x1="550.7" y1="664.52" x2="555.2" y2="664.52" stroke="#303030" stroke-width="1.35"/>
<line x1="855.8" y1="664.52" x2="851.3" y2="664.52" stroke="#303030" stroke-width="1.35"/>
<text transform="translate(541.9,673.72) scale(0.960,1)" font-size="25" text-anchor="end">0.6</text>
<line x1="550.7" y1="581.36" x2="555.2" y2="581.36" stroke="#303030" stroke-width="1.35"/>
<line x1="855.8" y1="581.36" x2="851.3" y2="581.36" stroke="#303030" stroke-width="1.35"/>
<text transform="translate(541.9,590.56) scale(0.960,1)" font-size="25" text-anchor="end">0.8</text>
<text transform="translate(541.9,507.4) scale(0.960,1)" font-size="25" text-anchor="end">1</text>
<text transform="translate(708.4,975.7) scale(1.200,1)" font-size="24" text-anchor="middle"><tspan class="g">η</tspan></text>
<text transform="translate(502.3,704.6) scale(0.824,1) rotate(-90)" font-size="28.1" text-anchor="middle" xml:space="preserve"><tspan class="g">χ</tspan>(<tspan class="g">η</tspan>)</text>
<path d="M550.9,498.3L551.1,500.8L551.3,503.4L551.6,505.9L551.8,508.4L552.0,511.0L552.2,513.5L552.5,516.0L552.7,518.5L552.9,521.1L553.2,523.6L553.4,526.1L553.7,528.6L553.9,531.1L554.2,533.6L554.4,536.1L554.7,538.6L555.0,541.2L555.2,543.7L555.5,546.2L555.8,548.7L556.1,551.2L556.3,553.7L556.6,556.1L556.9,558.6L557.2,561.1L557.5,563.6L557.7,566.1L558.0,568.6L558.3,571.1L558.6,573.6L558.9,576.1L559.2,578.6L559.5,581.0L559.8,583.5L560.1,586.0L560.4,588.5L560.7,591.0L561.0,593.4L561.3,595.9L561.7,598.4L562.0,600.9L562.3,603.4L562.6,605.8L562.9,608.3L563.2,610.8L563.5,613.3L563.9,615.7L564.2,618.2L564.5,620.7L564.8,623.2L565.1,625.6L565.5,628.1L565.8,630.6L566.1,633.1L566.4,635.6L566.8,638.0L567.1,640.5L567.4,643.0L567.7,645.5L568.1,647.9L568.4,650.4L568.7,652.9L569.0,655.4L569.4,657.8L569.7,660.3L570.0,662.8L570.3,665.3L570.7,667.8L571.0,670.2L571.3,672.7L571.6,675.2L572.0,677.7L572.3,680.2L572.6,682.7L572.9,685.2L573.3,687.6L573.6,690.1L573.9,692.6L574.2,695.1L574.5,697.6L574.9,700.1L575.2,702.6L575.5,705.1L575.8,707.6L576.1,710.1L576.4,712.6L576.7,715.1L577.1,717.6L577.4,720.1L577.7,722.6L578.0,725.2L578.3,727.7L578.6,730.2L578.9,732.7L579.2,735.2L579.5,737.7L579.8,740.3L580.1,742.8L580.3,745.3L580.6,747.8L580.9,750.4L581.2,752.9L581.5,755.5L581.8,758.0L582.1,760.5L582.4,763.1L582.7,765.6L583.0,768.1L583.3,770.7L583.6,773.2L583.9,775.7L584.2,778.3L584.5,780.8L584.9,783.3L585.2,785.8L585.6,788.4L586.0,790.9L586.4,793.4L586.8,795.9L587.2,798.4L587.6,800.9L588.0,803.4L588.5,805.9L589.0,808.3L589.5,810.8L590.0,813.3L590.5,815.7L591.1,818.2L591.7,820.6L592.3,823.0L592.9,825.5L593.6,827.9L594.2,830.3L594.9,832.7L595.7,835.1L596.4,837.4L597.2,839.8L598.0,842.1L598.9,844.5L599.7,846.8L600.7,849.1L601.6,851.4L602.6,853.7L603.6,855.9L604.6,858.2L605.7,860.4L606.8,862.6L608.0,864.8L609.2,867.0L610.4,869.2L611.7,871.4L613.0,873.5L614.4,875.6L615.8,877.7L617.2,879.8L618.7,881.9L620.2,883.9L621.8,885.8L623.4,887.8L625.1,889.6L626.8,891.4L628.6,893.2L630.4,894.9L632.3,896.5L634.2,898.0L636.2,899.4L638.3,900.7L640.4,901.9L642.5,903.1L644.8,904.1L647.0,904.9L649.4,905.7L651.7,906.4L654.2,907.0L656.6,907.4L659.1,907.8L661.7,908.2L664.2,908.5L666.8,908.7L669.4,908.9L671.9,909.1L674.5,909.3L677.1,909.5L679.7,909.6L682.3,909.8L684.8,909.9L687.4,910.1L689.9,910.2L692.5,910.4L695.0,910.5L697.6,910.6L700.1,910.7L702.7,910.9L705.2,911.0L707.7,911.1L710.3,911.2L712.8,911.3L715.3,911.4L717.9,911.5L720.4,911.6L722.9,911.7L725.4,911.8L727.9,911.8L730.4,911.9L732.9,912.0L735.5,912.1L738.0,912.1L740.5,912.2L743.0,912.2L745.5,912.3L748.0,912.4L750.5,912.4L753.0,912.5L755.5,912.5L758.0,912.6L760.4,912.6L762.9,912.6L765.4,912.7L767.9,912.7L770.4,912.7L772.9,912.8L775.4,912.8L777.9,912.8L780.4,912.9L782.9,912.9L785.4,912.9L787.9,912.9L790.4,913.0L792.9,913.0L795.4,913.0L797.9,913.0L800.4,913.0L802.9,913.0L805.4,913.1L807.9,913.1L810.4,913.1L812.9,913.1L815.4,913.1L817.9,913.1L820.4,913.2L822.9,913.2L825.4,913.2L827.9,913.2L830.5,913.2L833.0,913.2L835.5,913.2L838.0,913.3L840.6,913.3L843.1,913.3L845.6,913.3L848.2,913.3L850.7,913.4L853.3,913.4L855.8,913.4" fill="none" stroke="#ff0000" stroke-width="3.8" stroke-dasharray="2.3,2.4" clip-path="url(#clipD)"/>
<path d="M550.9,498.3L551.1,500.8L551.3,503.4L551.5,505.9L551.7,508.5L551.9,511.0L552.1,513.5L552.3,516.1L552.5,518.6L552.7,521.1L553.0,523.6L553.2,526.2L553.4,528.7L553.7,531.2L553.9,533.7L554.1,536.2L554.4,538.7L554.6,541.3L554.9,543.8L555.1,546.3L555.4,548.8L555.7,551.3L555.9,553.8L556.2,556.3L556.5,558.8L556.7,561.3L557.0,563.8L557.3,566.3L557.6,568.8L557.9,571.2L558.1,573.7L558.4,576.2L558.7,578.7L559.0,581.2L559.3,583.7L559.6,586.2L559.9,588.7L560.2,591.1L560.5,593.6L560.8,596.1L561.1,598.6L561.4,601.1L561.7,603.5L562.1,606.0L562.4,608.5L562.7,611.0L563.0,613.5L563.3,615.9L563.6,618.4L563.9,620.9L564.3,623.4L564.6,625.9L564.9,628.3L565.2,630.8L565.6,633.3L565.9,635.8L566.2,638.2L566.5,640.7L566.9,643.2L567.2,645.7L567.5,648.2L567.8,650.6L568.2,653.1L568.5,655.6L568.8,658.1L569.1,660.6L569.5,663.0L569.8,665.5L570.1,668.0L570.5,670.5L570.8,673.0L571.1,675.5L571.4,678.0L571.8,680.4L572.1,682.9L572.4,685.4L572.7,687.9L573.1,690.4L573.4,692.9L573.7,695.4L574.0,697.9L574.4,700.4L574.7,702.9L575.0,705.4L575.3,707.9L575.6,710.4L575.9,712.9L576.3,715.4L576.6,717.9L576.9,720.4L577.2,722.9L577.5,725.5L577.8,728.0L578.1,730.5L578.4,733.0L578.7,735.5L579.0,738.1L579.3,740.6L579.6,743.1L579.9,745.6L580.2,748.2L580.5,750.7L580.7,753.3L581.0,755.8L581.3,758.3L581.6,760.9L581.9,763.4L582.2,766.0L582.5,768.5L582.8,771.0L583.1,773.6L583.4,776.1L583.7,778.7L584.1,781.2L584.4,783.7L584.8,786.2L585.1,788.8L585.5,791.3L585.9,793.8L586.3,796.3L586.7,798.8L587.1,801.3L587.6,803.8L588.0,806.3L588.5,808.8L589.0,811.3L589.5,813.7L590.1,816.2L590.6,818.6L591.2,821.1L591.8,823.5L592.4,825.9L593.1,828.3L593.8,830.7L594.5,833.1L595.2,835.5L596.0,837.9L596.7,840.3L597.6,842.6L598.4,844.9L599.3,847.3L600.2,849.6L601.1,851.9L602.1,854.1L603.1,856.4L604.2,858.7L605.3,860.9L606.4,863.1L607.6,865.3L608.7,867.5L610.0,869.7L611.3,871.8L612.6,874.0L614.0,876.1L615.4,878.2L616.8,880.3L618.3,882.3L619.8,884.3L621.4,886.3L623.1,888.2L624.8,890.1L626.5,891.9L628.3,893.6L630.1,895.3L632.0,896.8L634.0,898.3L635.9,899.8L638.0,901.1L640.1,902.3L642.3,903.4L644.5,904.4L646.8,905.3L649.1,906.1L651.5,906.7L653.9,907.3L656.4,907.8L658.9,908.2L661.4,908.5L664.0,908.8L666.6,909.1L669.1,909.3L671.7,909.5L674.3,909.7L676.9,909.8L679.5,910.0L682.0,910.2L684.6,910.3L687.2,910.5L689.7,910.6L692.3,910.8L694.8,910.9L697.4,911.0L699.9,911.1L702.5,911.2L705.0,911.4L707.6,911.5L710.1,911.6L712.6,911.7L715.1,911.8L717.7,911.8L720.2,911.9L722.7,912.0L725.2,912.1L727.8,912.1L730.3,912.2L732.8,912.3L735.3,912.3L737.8,912.4L740.3,912.4L742.8,912.5L745.3,912.5L747.8,912.6L750.3,912.6L752.8,912.6L755.3,912.7L757.8,912.7L760.3,912.7L762.8,912.8L765.3,912.8L767.8,912.8L770.3,912.8L772.8,912.9L775.3,912.9L777.8,912.9L780.3,912.9L782.8,912.9L785.3,912.9L787.8,913.0L790.3,913.0L792.8,913.0L795.3,913.0L797.8,913.0L800.3,913.0L802.8,913.0L805.3,913.0L807.8,913.0L810.3,913.0L812.8,913.0L815.3,913.1L817.9,913.1L820.4,913.1L822.9,913.1L825.4,913.1L827.9,913.1L830.4,913.1L833.0,913.2L835.5,913.2L838.0,913.2L840.6,913.2L843.1,913.2L845.6,913.3L848.2,913.3L850.7,913.3L853.3,913.4L855.8,913.4" fill="none" stroke="#00ff00" stroke-width="3.8" stroke-dasharray="9.5,9.5" clip-path="url(#clipD)"/>
<path d="M550.9,498.3L551.1,500.9L551.2,503.4L551.4,505.9L551.6,508.5L551.8,511.0L552.0,513.6L552.2,516.1L552.3,518.6L552.6,521.2L552.8,523.7L553.0,526.2L553.2,528.7L553.4,531.3L553.6,533.8L553.9,536.3L554.1,538.8L554.3,541.3L554.6,543.9L554.8,546.4L555.0,548.9L555.3,551.4L555.5,553.9L555.8,556.4L556.1,558.9L556.3,561.4L556.6,563.9L556.9,566.4L557.1,568.9L557.4,571.4L557.7,573.9L558.0,576.4L558.2,578.9L558.5,581.3L558.8,583.8L559.1,586.3L559.4,588.8L559.7,591.3L560.0,593.8L560.3,596.3L560.6,598.7L560.9,601.2L561.2,603.7L561.5,606.2L561.8,608.7L562.1,611.2L562.5,613.6L562.8,616.1L563.1,618.6L563.4,621.1L563.7,623.6L564.0,626.0L564.4,628.5L564.7,631.0L565.0,633.5L565.3,636.0L565.7,638.4L566.0,640.9L566.3,643.4L566.6,645.9L567.0,648.4L567.3,650.8L567.6,653.3L568.0,655.8L568.3,658.3L568.6,660.8L568.9,663.3L569.3,665.7L569.6,668.2L569.9,670.7L570.3,673.2L570.6,675.7L570.9,678.2L571.3,680.7L571.6,683.2L571.9,685.6L572.2,688.1L572.6,690.6L572.9,693.1L573.2,695.6L573.5,698.1L573.9,700.6L574.2,703.1L574.5,705.6L574.8,708.1L575.1,710.6L575.5,713.2L575.8,715.7L576.1,718.2L576.4,720.7L576.7,723.2L577.0,725.7L577.3,728.2L577.6,730.8L577.9,733.3L578.2,735.8L578.5,738.3L578.8,740.9L579.1,743.4L579.4,745.9L579.7,748.5L580.0,751.0L580.3,753.6L580.6,756.1L580.9,758.7L581.2,761.2L581.4,763.7L581.7,766.3L582.0,768.8L582.3,771.4L582.6,773.9L583.0,776.5L583.3,779.0L583.6,781.5L584.0,784.1L584.3,786.6L584.7,789.1L585.0,791.7L585.4,794.2L585.8,796.7L586.2,799.2L586.7,801.7L587.1,804.2L587.6,806.7L588.1,809.2L588.6,811.6L589.1,814.1L589.6,816.6L590.2,819.0L590.7,821.5L591.4,823.9L592.0,826.3L592.6,828.7L593.3,831.2L594.0,833.5L594.8,835.9L595.5,838.3L596.3,840.7L597.1,843.0L598.0,845.3L598.9,847.7L599.8,850.0L600.7,852.3L601.7,854.6L602.7,856.8L603.8,859.1L604.9,861.3L606.0,863.5L607.1,865.7L608.3,867.9L609.6,870.1L610.9,872.2L612.2,874.4L613.6,876.5L615.0,878.6L616.5,880.6L618.0,882.7L619.5,884.7L621.1,886.6L622.7,888.6L624.4,890.4L626.2,892.2L628.0,893.9L629.8,895.6L631.7,897.2L633.7,898.7L635.7,900.1L637.7,901.4L639.9,902.6L642.0,903.7L644.3,904.7L646.6,905.6L648.9,906.3L651.3,907.0L653.7,907.5L656.2,908.0L658.7,908.4L661.3,908.8L663.8,909.1L666.4,909.3L669.0,909.5L671.5,909.7L674.1,909.9L676.7,910.1L679.3,910.3L681.9,910.4L684.4,910.6L687.0,910.7L689.5,910.9L692.1,911.0L694.7,911.2L697.2,911.3L699.8,911.4L702.3,911.5L704.8,911.6L707.4,911.7L709.9,911.8L712.4,911.9L715.0,912.0L717.5,912.1L720.0,912.2L722.6,912.2L725.1,912.3L727.6,912.4L730.1,912.4L732.6,912.5L735.2,912.5L737.7,912.6L740.2,912.6L742.7,912.6L745.2,912.7L747.7,912.7L750.2,912.7L752.7,912.8L755.2,912.8L757.7,912.8L760.2,912.8L762.7,912.9L765.2,912.9L767.7,912.9L770.2,912.9L772.7,912.9L775.2,912.9L777.7,912.9L780.2,912.9L782.7,912.9L785.2,913.0L787.7,913.0L790.2,913.0L792.8,913.0L795.3,913.0L797.8,913.0L800.3,913.0L802.8,913.0L805.3,913.0L807.8,913.0L810.3,913.0L812.8,913.0L815.3,913.0L817.8,913.0L820.3,913.0L822.9,913.0L825.4,913.1L827.9,913.1L830.4,913.1L833.0,913.1L835.5,913.1L838.0,913.2L840.5,913.2L843.1,913.2L845.6,913.2L848.2,913.3L850.7,913.3L853.3,913.4L855.8,913.4" fill="none" stroke="#0000ff" stroke-width="3.8" stroke-dasharray="9.6,2.5,3.5,2.5" clip-path="url(#clipD)"/>
<path d="M550.9,498.3L551.0,500.8L551.2,503.4L551.3,505.9L551.5,508.5L551.7,511.0L551.8,513.5L552.0,516.1L552.2,518.6L552.3,521.1L552.5,523.7L552.7,526.2L552.9,528.7L553.1,531.2L553.3,533.7L553.5,536.2L553.8,538.8L554.0,541.3L554.2,543.8L554.4,546.3L554.7,548.8L554.9,551.3L555.1,553.8L555.4,556.3L555.6,558.8L555.9,561.3L556.1,563.8L556.4,566.3L556.6,568.7L556.9,571.2L557.2,573.7L557.4,576.2L557.7,578.7L558.0,581.2L558.3,583.7L558.6,586.1L558.9,588.6L559.1,591.1L559.4,593.6L559.7,596.1L560.0,598.5L560.3,601.0L560.6,603.5L560.9,606.0L561.2,608.4L561.5,610.9L561.8,613.4L562.2,615.9L562.5,618.3L562.8,620.8L563.1,623.3L563.4,625.7L563.7,628.2L564.1,630.7L564.4,633.2L564.7,635.6L565.0,638.1L565.4,640.6L565.7,643.1L566.0,645.5L566.3,648.0L566.7,650.5L567.0,652.9L567.3,655.4L567.7,657.9L568.0,660.4L568.3,662.8L568.6,665.3L569.0,667.8L569.3,670.3L569.6,672.8L570.0,675.2L570.3,677.7L570.6,680.2L571.0,682.7L571.3,685.2L571.6,687.7L571.9,690.1L572.3,692.6L572.6,695.1L572.9,697.6L573.3,700.1L573.6,702.6L573.9,705.1L574.2,707.6L574.5,710.1L574.9,712.6L575.2,715.1L575.5,717.6L575.8,720.1L576.1,722.6L576.4,725.1L576.7,727.6L577.0,730.2L577.4,732.7L577.7,735.2L578.0,737.7L578.3,740.2L578.6,742.8L578.8,745.3L579.1,747.8L579.4,750.4L579.7,752.9L580.0,755.4L580.3,758.0L580.6,760.5L580.9,763.0L581.1,765.6L581.4,768.1L581.7,770.7L582.0,773.2L582.4,775.7L582.7,778.3L583.0,780.8L583.3,783.3L583.7,785.9L584.0,788.4L584.4,790.9L584.8,793.4L585.2,795.9L585.6,798.4L586.0,800.9L586.4,803.4L586.9,805.9L587.3,808.4L587.8,810.9L588.3,813.3L588.9,815.8L589.4,818.2L590.0,820.7L590.6,823.1L591.2,825.5L591.8,828.0L592.5,830.4L593.2,832.7L593.9,835.1L594.6,837.5L595.4,839.9L596.2,842.2L597.0,844.5L597.9,846.9L598.8,849.2L599.7,851.5L600.7,853.7L601.7,856.0L602.7,858.3L603.8,860.5L604.9,862.7L606.0,864.9L607.2,867.1L608.4,869.3L609.7,871.4L611.0,873.6L612.4,875.7L613.7,877.8L615.2,879.8L616.6,881.9L618.2,883.9L619.7,885.9L621.4,887.8L623.0,889.7L624.7,891.5L626.5,893.3L628.3,895.0L630.2,896.6L632.1,898.1L634.1,899.6L636.1,900.9L638.2,902.2L640.3,903.3L642.5,904.4L644.8,905.3L647.1,906.2L649.4,906.9L651.8,907.5L654.3,908.0L656.8,908.5L659.3,908.9L661.8,909.2L664.4,909.5L666.9,909.8L669.5,910.0L672.1,910.2L674.6,910.4L677.2,910.5L679.8,910.7L682.3,910.9L684.9,911.0L687.4,911.2L690.0,911.3L692.5,911.4L695.1,911.6L697.6,911.7L700.2,911.8L702.7,911.9L705.2,912.0L707.8,912.1L710.3,912.2L712.8,912.3L715.4,912.4L717.9,912.4L720.4,912.5L722.9,912.5L725.4,912.6L727.9,912.7L730.5,912.7L733.0,912.7L735.5,912.8L738.0,912.8L740.5,912.9L743.0,912.9L745.5,912.9L748.0,912.9L750.5,912.9L753.0,913.0L755.5,913.0L758.0,913.0L760.5,913.0L763.0,913.0L765.5,913.0L768.0,913.0L770.5,913.0L773.0,913.0L775.5,913.0L778.0,913.0L780.5,913.0L782.9,913.0L785.4,913.0L787.9,913.0L790.4,913.0L792.9,913.0L795.4,913.0L797.9,913.0L800.4,913.0L802.9,913.0L805.4,913.0L807.9,913.0L810.4,913.0L812.9,913.0L815.4,913.0L818.0,913.0L820.5,913.0L823.0,913.0L825.5,913.0L828.0,913.0L830.5,913.0L833.0,913.0L835.6,913.1L838.1,913.1L840.6,913.1L843.1,913.2L845.7,913.2L848.2,913.2L850.7,913.3L853.3,913.3L855.8,913.4" fill="none" stroke="#00ffff" stroke-width="3.8" clip-path="url(#clipD)"/>
<clipPath id="clipID"><rect x="692.5" y="717.5" width="108.6" height="90.9"/></clipPath>
<ellipse cx="615.7" cy="876.25" rx="20.3" ry="23.1" fill="none" stroke="#ff0000" stroke-width="1.2"/>
<line x1="605.4" y1="856.25" x2="692.5" y2="718.5" stroke="#ff0000" stroke-width="1.2"/>
<line x1="628.3" y1="893.75" x2="800.1" y2="806.9" stroke="#ff0000" stroke-width="1.2"/>
<rect x="692.5" y="718.5" width="107.6" height="88.4" fill="#fff" stroke="none"/>
<line x1="717.5" y1="718.5" x2="717.5" y2="806.9" stroke="#dcdcdc" stroke-width="1"/>
<line x1="752" y1="718.5" x2="752" y2="806.9" stroke="#dcdcdc" stroke-width="1"/>
<line x1="785.6" y1="718.5" x2="785.6" y2="806.9" stroke="#dcdcdc" stroke-width="1"/>
<line x1="692.5" y1="734" x2="800.1" y2="734" stroke="#dcdcdc" stroke-width="1"/>
<line x1="692.5" y1="761.8" x2="800.1" y2="761.8" stroke="#dcdcdc" stroke-width="1"/>
<line x1="692.5" y1="789.8" x2="800.1" y2="789.8" stroke="#dcdcdc" stroke-width="1"/>
<rect x="692.5" y="718.5" width="107.6" height="88.4" fill="none" stroke="#303030" stroke-width="1.4"/>
<line x1="717.5" y1="806.9" x2="717.5" y2="804.7" stroke="#303030" stroke-width="1.35"/>
<line x1="717.5" y1="718.5" x2="717.5" y2="720.7" stroke="#303030" stroke-width="1.35"/>
<text transform="translate(717.5,838.2)" font-size="23" text-anchor="middle">0.9</text>
<line x1="752" y1="806.9" x2="752" y2="804.7" stroke="#303030" stroke-width="1.35"/>
<line x1="752" y1="718.5" x2="752" y2="720.7" stroke="#303030" stroke-width="1.35"/>
<text transform="translate(752,838.2)" font-size="23" text-anchor="middle">0.95</text>
<line x1="785.6" y1="806.9" x2="785.6" y2="804.7" stroke="#303030" stroke-width="1.35"/>
<line x1="785.6" y1="718.5" x2="785.6" y2="720.7" stroke="#303030" stroke-width="1.35"/>
<text transform="translate(785.6,838.2)" font-size="23" text-anchor="middle">1</text>
<line x1="692.5" y1="734" x2="694.7" y2="734" stroke="#303030" stroke-width="1.35"/>
<line x1="800.1" y1="734" x2="797.9" y2="734" stroke="#303030" stroke-width="1.35"/>
<text transform="translate(683.9,742.8) scale(0.885,1)" font-size="25.3" text-anchor="end">0.12</text>
<line x1="692.5" y1="761.8" x2="694.7" y2="761.8" stroke="#303030" stroke-width="1.35"/>
<line x1="800.1" y1="761.8" x2="797.9" y2="761.8" stroke="#303030" stroke-width="1.35"/>
<text transform="translate(683.9,770.6) scale(0.885,1)" font-size="25.3" text-anchor="end">0.11</text>
<line x1="692.5" y1="789.8" x2="694.7" y2="789.8" stroke="#303030" stroke-width="1.35"/>
<line x1="800.1" y1="789.8" x2="797.9" y2="789.8" stroke="#303030" stroke-width="1.35"/>
<text transform="translate(683.9,798.6) scale(0.885,1)" font-size="25.3" text-anchor="end">0.1</text>
<path d="M739.3,718.5L800.1,794.9" fill="none" stroke="#ff0000" stroke-width="3.8" stroke-dasharray="2.3,2.4" clip-path="url(#clipID)"/>
<path d="M731.9,718.5L800.1,804" fill="none" stroke="#00ff00" stroke-width="3.8" stroke-dasharray="9.5,9.5" clip-path="url(#clipID)"/>
<path d="M722.1,718.5L790.9,806.9" fill="none" stroke="#0000ff" stroke-width="3.8" stroke-dasharray="9.6,2.5,3.5,2.5" clip-path="url(#clipID)"/>
<path d="M712.2,718.5L780.5,806.9" fill="none" stroke="#00ffff" stroke-width="3.8" clip-path="url(#clipID)"/>
<line x1="591" y1="808.6" x2="582.6" y2="827.46" stroke="#000" stroke-width="1.5"/>
<polygon points="578,837.8 579.46,820.5 582.6,827.46 589.88,825.14" fill="#000"/>
<rect x="699.5" y="513.1" width="141.9" height="111.7" fill="#fff" stroke="#303030" stroke-width="1.4"/>
<path d="M708.5,529.2L754.8,529.2" fill="none" stroke="#ff0000" stroke-width="3.7" stroke-dasharray="2.3,2.4"/>
<text transform="translate(758.2,537.25) scale(0.975,1)" font-size="22.6" text-anchor="start" xml:space="preserve">We = 1.0</text>
<path d="M708.5,555.8L754.8,555.8" fill="none" stroke="#00ff00" stroke-width="3.7" stroke-dasharray="9.5,9.5"/>
<text transform="translate(758.2,564) scale(0.975,1)" font-size="22.6" text-anchor="start" xml:space="preserve">We = 3.0</text>
<path d="M708.5,582.2L754.8,582.2" fill="none" stroke="#0000ff" stroke-width="3.7" stroke-dasharray="9.6,2.5,3.5,2.5"/>
<text transform="translate(758.2,590.2) scale(0.975,1)" font-size="22.6" text-anchor="start" xml:space="preserve">We = 5.0</text>
<path d="M708.5,608.7L754.8,608.7" fill="none" stroke="#00ffff" stroke-width="3.7"/>
<text transform="translate(758.2,616.8) scale(0.975,1)" font-size="22.6" text-anchor="start" xml:space="preserve">We = 7.0</text>
<clipPath id="clipE"><rect x="79.4" y="1064.4" width="344.3" height="426"/></clipPath>
<text class="pl" transform="translate(2.9,1035.8) scale(0.960,1)" font-size="43.4">E</text>
<line x1="148.26" y1="1064.9" x2="148.26" y2="1488.9" stroke="#dfdfdf" stroke-width="1"/>
<line x1="216.62" y1="1064.9" x2="216.62" y2="1488.9" stroke="#dfdfdf" stroke-width="1"/>
<line x1="284.98" y1="1064.9" x2="284.98" y2="1488.9" stroke="#dfdfdf" stroke-width="1"/>
<line x1="353.34" y1="1064.9" x2="353.34" y2="1488.9" stroke="#dfdfdf" stroke-width="1"/>
<line x1="79.9" y1="1404.1" x2="421.7" y2="1404.1" stroke="#dfdfdf" stroke-width="1"/>
<line x1="79.9" y1="1319.3" x2="421.7" y2="1319.3" stroke="#dfdfdf" stroke-width="1"/>
<line x1="79.9" y1="1234.5" x2="421.7" y2="1234.5" stroke="#dfdfdf" stroke-width="1"/>
<line x1="79.9" y1="1149.7" x2="421.7" y2="1149.7" stroke="#dfdfdf" stroke-width="1"/>
<rect x="79.9" y="1064.9" width="341.8" height="424" fill="none" stroke="#303030" stroke-width="1.5"/>
<text transform="translate(79.9,1520.2) scale(1.090,1)" font-size="25" text-anchor="middle">0</text>
<line x1="148.26" y1="1488.9" x2="148.26" y2="1484.4" stroke="#303030" stroke-width="1.35"/>
<line x1="148.26" y1="1064.9" x2="148.26" y2="1069.4" stroke="#303030" stroke-width="1.35"/>
<text transform="translate(148.26,1520.2) scale(1.090,1)" font-size="25" text-anchor="middle">1</text>
<line x1="216.62" y1="1488.9" x2="216.62" y2="1484.4" stroke="#303030" stroke-width="1.35"/>
<line x1="216.62" y1="1064.9" x2="216.62" y2="1069.4" stroke="#303030" stroke-width="1.35"/>
<text transform="translate(216.62,1520.2) scale(1.090,1)" font-size="25" text-anchor="middle">2</text>
<line x1="284.98" y1="1488.9" x2="284.98" y2="1484.4" stroke="#303030" stroke-width="1.35"/>
<line x1="284.98" y1="1064.9" x2="284.98" y2="1069.4" stroke="#303030" stroke-width="1.35"/>
<text transform="translate(284.98,1520.2) scale(1.090,1)" font-size="25" text-anchor="middle">3</text>
<line x1="353.34" y1="1488.9" x2="353.34" y2="1484.4" stroke="#303030" stroke-width="1.35"/>
<line x1="353.34" y1="1064.9" x2="353.34" y2="1069.4" stroke="#303030" stroke-width="1.35"/>
<text transform="translate(353.34,1520.2) scale(1.090,1)" font-size="25" text-anchor="middle">4</text>
<text transform="translate(421.7,1520.2) scale(1.090,1)" font-size="25" text-anchor="middle">5</text>
<text transform="translate(71,1497.9) scale(1.090,1)" font-size="25" text-anchor="end">0</text>
<line x1="79.9" y1="1404.1" x2="84.4" y2="1404.1" stroke="#303030" stroke-width="1.35"/>
<line x1="421.7" y1="1404.1" x2="417.2" y2="1404.1" stroke="#303030" stroke-width="1.35"/>
<text transform="translate(71,1413.1) scale(1.090,1)" font-size="25" text-anchor="end">2</text>
<line x1="79.9" y1="1319.3" x2="84.4" y2="1319.3" stroke="#303030" stroke-width="1.35"/>
<line x1="421.7" y1="1319.3" x2="417.2" y2="1319.3" stroke="#303030" stroke-width="1.35"/>
<text transform="translate(71,1328.3) scale(1.090,1)" font-size="25" text-anchor="end">4</text>
<line x1="79.9" y1="1234.5" x2="84.4" y2="1234.5" stroke="#303030" stroke-width="1.35"/>
<line x1="421.7" y1="1234.5" x2="417.2" y2="1234.5" stroke="#303030" stroke-width="1.35"/>
<text transform="translate(71,1243.5) scale(1.090,1)" font-size="25" text-anchor="end">6</text>
<line x1="79.9" y1="1149.7" x2="84.4" y2="1149.7" stroke="#303030" stroke-width="1.35"/>
<line x1="421.7" y1="1149.7" x2="417.2" y2="1149.7" stroke="#303030" stroke-width="1.35"/>
<text transform="translate(71,1158.7) scale(1.090,1)" font-size="25" text-anchor="end">8</text>
<text transform="translate(71,1073.9) scale(1.090,1)" font-size="25" text-anchor="end">10</text>
<text transform="translate(256.7,1548.3) scale(1.230,1)" font-size="24" text-anchor="middle"><tspan class="g">η</tspan></text>
<text transform="translate(33.3,1274.5) scale(1.070,1) rotate(-90)" font-size="24.2" text-anchor="middle" xml:space="preserve">Ns(<tspan class="g">η</tspan>)</text>
<path d="M80.0,1175.7L80.2,1178.2L80.5,1180.8L80.7,1183.3L81.0,1185.8L81.3,1188.3L81.5,1190.9L81.8,1193.4L82.0,1195.9L82.3,1198.4L82.5,1200.9L82.8,1203.5L83.0,1206.0L83.3,1208.5L83.6,1211.0L83.8,1213.5L84.1,1216.0L84.3,1218.5L84.6,1221.0L84.9,1223.5L85.2,1226.0L85.4,1228.5L85.7,1231.0L86.0,1233.5L86.3,1236.0L86.6,1238.5L86.8,1240.9L87.1,1243.4L87.4,1245.9L87.7,1248.4L88.0,1250.9L88.3,1253.4L88.6,1255.9L89.0,1258.4L89.3,1260.8L89.6,1263.3L89.9,1265.8L90.2,1268.3L90.6,1270.8L90.9,1273.3L91.3,1275.8L91.6,1278.2L92.0,1280.7L92.3,1283.2L92.7,1285.7L93.1,1288.2L93.4,1290.7L93.8,1293.1L94.2,1295.6L94.6,1298.1L95.0,1300.6L95.4,1303.1L95.8,1305.6L96.2,1308.0L96.6,1310.5L97.0,1313.0L97.5,1315.5L97.9,1318.0L98.4,1320.5L98.8,1323.0L99.3,1325.5L99.8,1328.0L100.2,1330.5L100.7,1333.0L101.2,1335.4L101.7,1337.9L102.2,1340.4L102.8,1342.9L103.3,1345.4L103.9,1347.9L104.4,1350.4L105.0,1352.8L105.6,1355.3L106.2,1357.8L106.9,1360.3L107.5,1362.7L108.1,1365.2L108.8,1367.6L109.5,1370.1L110.2,1372.5L110.9,1375.0L111.7,1377.4L112.4,1379.9L113.2,1382.3L114.0,1384.7L114.8,1387.1L115.7,1389.5L116.5,1391.9L117.4,1394.3L118.3,1396.7L119.3,1399.1L120.2,1401.4L121.2,1403.8L122.2,1406.1L123.2,1408.5L124.3,1410.8L125.4,1413.1L126.5,1415.4L127.6,1417.7L128.8,1420.0L130.0,1422.2L131.2,1424.4L132.5,1426.6L133.8,1428.8L135.1,1430.9L136.5,1433.0L137.9,1435.1L139.3,1437.1L140.8,1439.1L142.4,1441.1L143.9,1443.0L145.5,1444.9L147.2,1446.7L148.9,1448.5L150.6,1450.3L152.4,1451.9L154.2,1453.6L156.1,1455.2L158.0,1456.7L160.0,1458.2L161.9,1459.7L164.0,1461.1L166.0,1462.5L168.1,1463.8L170.2,1465.1L172.4,1466.3L174.6,1467.5L176.8,1468.7L179.0,1469.8L181.3,1470.8L183.6,1471.9L185.9,1472.9L188.2,1473.8L190.6,1474.7L193.0,1475.6L195.3,1476.4L197.8,1477.2L200.2,1478.0L202.6,1478.7L205.1,1479.4L207.5,1480.0L210.0,1480.7L212.5,1481.2L215.0,1481.8L217.5,1482.3L220.0,1482.8L222.5,1483.2L225.0,1483.7L227.5,1484.0L230.0,1484.4L232.5,1484.7L235.1,1485.1L237.6,1485.3L240.1,1485.6L242.7,1485.8L245.2,1486.1L247.7,1486.3L250.3,1486.4L252.8,1486.6L255.4,1486.8L257.9,1486.9L260.4,1487.0L263.0,1487.1L265.5,1487.2L268.1,1487.3L270.6,1487.4L273.2,1487.4L275.7,1487.5L278.2,1487.5L280.8,1487.6L283.3,1487.6L285.8,1487.7L288.4,1487.7L290.9,1487.8L293.4,1487.8L296.0,1487.9L298.5,1487.9L301.0,1487.9L303.5,1488.0L306.0,1488.0L308.5,1488.0L311.1,1488.1L313.6,1488.1L316.1,1488.1L318.6,1488.2L321.1,1488.2L323.6,1488.2L326.1,1488.2L328.6,1488.3L331.1,1488.3L333.6,1488.3L336.1,1488.3L338.6,1488.4L341.1,1488.4L343.6,1488.4L346.1,1488.4L348.6,1488.4L351.1,1488.5L353.6,1488.5L356.1,1488.5L358.6,1488.5L361.1,1488.5L363.6,1488.6L366.1,1488.6L368.6,1488.6L371.2,1488.6L373.7,1488.6L376.2,1488.6L378.7,1488.6L381.2,1488.6L383.7,1488.7L386.2,1488.7L388.7,1488.7L391.3,1488.7L393.8,1488.7L396.3,1488.7L398.8,1488.7L401.4,1488.7L403.9,1488.7L406.4,1488.8L409.0,1488.8L411.5,1488.8L414.1,1488.8L416.6,1488.8L419.1,1488.8L421.7,1488.8" fill="none" stroke="#ff0000" stroke-width="3.7" stroke-dasharray="2.3,2.4" clip-path="url(#clipE)"/>
<path d="M80.0,1167.4L80.2,1169.9L80.5,1172.4L80.8,1174.9L81.0,1177.4L81.3,1179.9L81.5,1182.4L81.8,1184.9L82.1,1187.4L82.4,1189.9L82.7,1192.4L82.9,1195.0L83.2,1197.5L83.5,1200.0L83.8,1202.5L84.1,1205.0L84.4,1207.5L84.8,1210.0L85.1,1212.5L85.4,1215.0L85.7,1217.5L86.0,1220.0L86.4,1222.5L86.7,1225.0L87.1,1227.5L87.4,1230.0L87.8,1232.5L88.1,1235.0L88.5,1237.5L88.8,1240.0L89.2,1242.5L89.6,1244.9L90.0,1247.4L90.3,1249.9L90.7,1252.4L91.1,1254.9L91.5,1257.4L91.9,1259.9L92.3,1262.4L92.7,1264.9L93.1,1267.3L93.5,1269.8L93.9,1272.3L94.4,1274.8L94.8,1277.3L95.2,1279.7L95.7,1282.2L96.1,1284.7L96.5,1287.2L97.0,1289.6L97.5,1292.1L97.9,1294.6L98.4,1297.1L98.8,1299.5L99.3,1302.0L99.8,1304.4L100.3,1306.9L100.7,1309.4L101.2,1311.8L101.7,1314.3L102.2,1316.7L102.7,1319.2L103.2,1321.6L103.7,1324.1L104.3,1326.5L104.8,1329.0L105.3,1331.4L105.9,1333.9L106.4,1336.3L107.0,1338.7L107.5,1341.2L108.1,1343.6L108.7,1346.1L109.3,1348.5L109.9,1350.9L110.5,1353.3L111.1,1355.8L111.8,1358.2L112.5,1360.6L113.1,1363.0L113.8,1365.4L114.5,1367.9L115.3,1370.3L116.0,1372.7L116.8,1375.1L117.5,1377.5L118.3,1379.9L119.2,1382.3L120.0,1384.7L120.9,1387.1L121.7,1389.5L122.7,1391.9L123.6,1394.3L124.5,1396.7L125.5,1399.1L126.5,1401.5L127.5,1403.9L128.6,1406.3L129.7,1408.6L130.8,1411.0L131.9,1413.4L133.1,1415.7L134.3,1418.0L135.5,1420.4L136.7,1422.6L138.0,1424.9L139.4,1427.1L140.7,1429.3L142.1,1431.5L143.5,1433.6L145.0,1435.7L146.5,1437.8L148.1,1439.7L149.6,1441.7L151.3,1443.6L152.9,1445.4L154.6,1447.2L156.4,1448.9L158.2,1450.6L160.0,1452.2L161.8,1453.8L163.7,1455.4L165.6,1456.8L167.6,1458.3L169.6,1459.7L171.6,1461.0L173.6,1462.3L175.7,1463.6L177.8,1464.8L179.9,1466.0L182.1,1467.1L184.3,1468.2L186.5,1469.3L188.7,1470.3L191.0,1471.3L193.3,1472.2L195.6,1473.1L197.9,1474.0L200.3,1474.8L202.6,1475.6L205.0,1476.4L207.4,1477.1L209.8,1477.8L212.3,1478.5L214.7,1479.1L217.2,1479.7L219.7,1480.3L222.2,1480.8L224.7,1481.4L227.2,1481.9L229.7,1482.3L232.3,1482.8L234.8,1483.2L237.4,1483.6L239.9,1484.0L242.5,1484.3L245.1,1484.7L247.7,1485.0L250.3,1485.3L252.8,1485.5L255.4,1485.8L258.0,1486.0L260.6,1486.3L263.2,1486.5L265.8,1486.6L268.4,1486.8L271.0,1487.0L273.6,1487.1L276.1,1487.3L278.7,1487.4L281.3,1487.5L283.9,1487.6L286.4,1487.7L289.0,1487.8L291.5,1487.9L294.0,1488.0L296.5,1488.1L299.1,1488.1L301.6,1488.2L304.1,1488.2L306.6,1488.3L309.1,1488.3L311.5,1488.3L314.0,1488.4L316.5,1488.4L319.0,1488.4L321.5,1488.4L323.9,1488.4L326.4,1488.4L328.9,1488.4L331.3,1488.4L333.8,1488.4L336.2,1488.4L338.7,1488.4L341.1,1488.4L343.6,1488.4L346.1,1488.4L348.5,1488.4L351.0,1488.3L353.4,1488.3L355.9,1488.3L358.4,1488.3L360.8,1488.3L363.3,1488.3L365.8,1488.3L368.2,1488.2L370.7,1488.2L373.2,1488.2L375.7,1488.2L378.2,1488.2L380.7,1488.2L383.2,1488.2L385.7,1488.2L388.2,1488.2L390.7,1488.2L393.3,1488.3L395.8,1488.3L398.4,1488.3L400.9,1488.3L403.5,1488.4L406.1,1488.4L408.6,1488.5L411.2,1488.5L413.8,1488.6L416.4,1488.6L419.1,1488.7L421.7,1488.8" fill="none" stroke="#00ff00" stroke-width="3.7" stroke-dasharray="9.5,9.5" clip-path="url(#clipE)"/>
<path d="M80.0,1128.5L80.3,1131.1L80.6,1133.6L80.8,1136.1L81.1,1138.7L81.4,1141.2L81.7,1143.8L82.0,1146.3L82.3,1148.8L82.6,1151.3L83.0,1153.8L83.3,1156.4L83.6,1158.9L83.9,1161.4L84.2,1163.9L84.6,1166.4L84.9,1168.9L85.2,1171.4L85.6,1173.9L85.9,1176.4L86.3,1178.8L86.6,1181.3L87.0,1183.8L87.4,1186.3L87.7,1188.8L88.1,1191.2L88.5,1193.7L88.8,1196.2L89.2,1198.7L89.6,1201.1L90.0,1203.6L90.4,1206.1L90.8,1208.5L91.2,1211.0L91.6,1213.5L92.0,1215.9L92.4,1218.4L92.8,1220.9L93.2,1223.3L93.6,1225.8L94.0,1228.2L94.4,1230.7L94.9,1233.1L95.3,1235.6L95.7,1238.1L96.2,1240.5L96.6,1243.0L97.1,1245.4L97.5,1247.9L98.0,1250.4L98.4,1252.8L98.9,1255.3L99.3,1257.8L99.8,1260.2L100.3,1262.7L100.7,1265.2L101.2,1267.6L101.7,1270.1L102.2,1272.6L102.6,1275.0L103.1,1277.5L103.6,1280.0L104.1,1282.5L104.6,1284.9L105.1,1287.4L105.6,1289.9L106.1,1292.4L106.6,1294.9L107.1,1297.4L107.7,1299.9L108.2,1302.4L108.7,1304.9L109.2,1307.4L109.8,1309.9L110.3,1312.4L110.8,1314.9L111.4,1317.4L111.9,1319.9L112.5,1322.4L113.1,1324.9L113.7,1327.4L114.3,1329.9L114.9,1332.4L115.5,1334.9L116.1,1337.4L116.7,1339.9L117.4,1342.3L118.0,1344.8L118.7,1347.3L119.4,1349.8L120.1,1352.2L120.8,1354.7L121.6,1357.1L122.3,1359.5L123.1,1362.0L123.9,1364.4L124.7,1366.8L125.5,1369.2L126.4,1371.6L127.2,1374.0L128.1,1376.4L129.0,1378.7L129.9,1381.1L130.9,1383.4L131.9,1385.7L132.9,1388.0L133.9,1390.3L134.9,1392.6L136.0,1394.9L137.1,1397.1L138.2,1399.4L139.4,1401.6L140.6,1403.8L141.8,1406.0L143.0,1408.2L144.3,1410.3L145.6,1412.5L146.9,1414.6L148.2,1416.7L149.6,1418.8L151.0,1420.8L152.5,1422.9L154.0,1424.9L155.5,1426.9L157.0,1428.9L158.6,1430.8L160.2,1432.7L161.9,1434.6L163.5,1436.5L165.2,1438.4L166.9,1440.2L168.7,1442.0L170.5,1443.8L172.3,1445.5L174.1,1447.2L175.9,1448.9L177.8,1450.5L179.7,1452.2L181.7,1453.7L183.6,1455.3L185.6,1456.8L187.6,1458.3L189.7,1459.7L191.7,1461.1L193.8,1462.5L195.9,1463.9L198.0,1465.2L200.2,1466.4L202.4,1467.6L204.5,1468.8L206.8,1470.0L209.0,1471.1L211.3,1472.1L213.5,1473.1L215.8,1474.1L218.2,1475.0L220.5,1475.9L222.8,1476.8L225.2,1477.6L227.6,1478.3L230.0,1479.0L232.4,1479.7L234.9,1480.4L237.3,1481.0L239.8,1481.6L242.2,1482.1L244.7,1482.6L247.2,1483.1L249.7,1483.5L252.2,1484.0L254.8,1484.4L257.3,1484.7L259.8,1485.1L262.4,1485.4L264.9,1485.7L267.5,1485.9L270.0,1486.2L272.6,1486.4L275.1,1486.6L277.7,1486.8L280.3,1487.0L282.8,1487.2L285.4,1487.3L287.9,1487.5L290.5,1487.6L293.0,1487.7L295.6,1487.8L298.1,1487.9L300.7,1488.0L303.2,1488.0L305.8,1488.1L308.3,1488.1L310.9,1488.2L313.4,1488.2L316.0,1488.2L318.5,1488.2L321.0,1488.2L323.6,1488.3L326.1,1488.2L328.6,1488.2L331.2,1488.2L333.7,1488.2L336.2,1488.2L338.8,1488.2L341.3,1488.1L343.8,1488.1L346.3,1488.1L348.9,1488.1L351.4,1488.0L353.9,1488.0L356.4,1488.0L358.9,1487.9L361.5,1487.9L364.0,1487.9L366.5,1487.8L369.0,1487.8L371.5,1487.8L374.0,1487.8L376.5,1487.8L379.1,1487.8L381.6,1487.8L384.1,1487.8L386.6,1487.8L389.1,1487.8L391.6,1487.8L394.1,1487.8L396.6,1487.9L399.1,1487.9L401.7,1488.0L404.2,1488.0L406.7,1488.1L409.2,1488.2L411.7,1488.3L414.2,1488.4L416.7,1488.5L419.2,1488.7L421.7,1488.8" fill="none" stroke="#0000ff" stroke-width="3.7" stroke-dasharray="9.6,2.5,3.5,2.5" clip-path="url(#clipE)"/>
<path d="M79.9,1077.6L80.2,1080.1L80.6,1082.6L80.9,1085.1L81.3,1087.6L81.6,1090.1L82.0,1092.6L82.3,1095.0L82.7,1097.5L83.0,1100.0L83.4,1102.5L83.7,1105.0L84.1,1107.5L84.4,1110.0L84.8,1112.5L85.1,1115.0L85.5,1117.5L85.9,1119.9L86.2,1122.4L86.6,1124.9L87.0,1127.4L87.4,1129.9L87.7,1132.4L88.1,1134.9L88.5,1137.4L88.9,1139.9L89.3,1142.3L89.7,1144.8L90.1,1147.3L90.4,1149.8L90.8,1152.3L91.2,1154.8L91.6,1157.3L92.0,1159.7L92.5,1162.2L92.9,1164.7L93.3,1167.2L93.7,1169.7L94.1,1172.2L94.5,1174.6L94.9,1177.1L95.4,1179.6L95.8,1182.1L96.2,1184.6L96.7,1187.0L97.1,1189.5L97.5,1192.0L98.0,1194.5L98.4,1196.9L98.9,1199.4L99.3,1201.9L99.8,1204.4L100.2,1206.8L100.7,1209.3L101.2,1211.8L101.6,1214.3L102.1,1216.7L102.6,1219.2L103.0,1221.7L103.5,1224.1L104.0,1226.6L104.5,1229.1L105.0,1231.6L105.5,1234.0L106.0,1236.5L106.5,1238.9L107.0,1241.4L107.5,1243.9L108.0,1246.3L108.5,1248.8L109.1,1251.3L109.6,1253.7L110.1,1256.2L110.6,1258.6L111.2,1261.1L111.7,1263.5L112.3,1266.0L112.8,1268.5L113.4,1270.9L113.9,1273.4L114.5,1275.8L115.0,1278.3L115.6,1280.7L116.2,1283.2L116.8,1285.6L117.3,1288.0L117.9,1290.5L118.5,1292.9L119.1,1295.4L119.7,1297.8L120.3,1300.3L120.9,1302.7L121.5,1305.1L122.2,1307.6L122.8,1310.0L123.4,1312.4L124.1,1314.9L124.7,1317.3L125.4,1319.7L126.0,1322.1L126.7,1324.6L127.4,1327.0L128.1,1329.4L128.8,1331.8L129.5,1334.2L130.2,1336.6L130.9,1339.0L131.7,1341.4L132.4,1343.8L133.2,1346.2L134.0,1348.6L134.8,1351.0L135.6,1353.3L136.4,1355.7L137.2,1358.1L138.1,1360.4L139.0,1362.8L139.9,1365.1L140.8,1367.5L141.7,1369.8L142.6,1372.1L143.6,1374.4L144.6,1376.8L145.6,1379.1L146.6,1381.4L147.6,1383.7L148.7,1386.0L149.7,1388.2L150.8,1390.5L152.0,1392.8L153.1,1395.0L154.3,1397.3L155.5,1399.5L156.7,1401.7L157.9,1404.0L159.2,1406.2L160.5,1408.4L161.8,1410.6L163.1,1412.7L164.5,1414.9L165.9,1417.0L167.3,1419.2L168.7,1421.3L170.2,1423.4L171.7,1425.5L173.2,1427.5L174.7,1429.6L176.3,1431.6L177.9,1433.6L179.5,1435.5L181.2,1437.5L182.8,1439.4L184.5,1441.2L186.3,1443.1L188.0,1444.9L189.8,1446.7L191.6,1448.4L193.4,1450.1L195.3,1451.8L197.2,1453.4L199.1,1455.0L201.1,1456.6L203.0,1458.1L205.0,1459.6L207.1,1461.0L209.1,1462.4L211.2,1463.7L213.3,1465.0L215.4,1466.2L217.6,1467.4L219.8,1468.5L222.0,1469.6L224.3,1470.7L226.6,1471.7L228.9,1472.6L231.2,1473.5L233.5,1474.4L235.9,1475.2L238.3,1476.0L240.7,1476.7L243.1,1477.4L245.5,1478.1L248.0,1478.7L250.4,1479.3L252.9,1479.9L255.4,1480.4L257.9,1480.9L260.4,1481.4L262.9,1481.8L265.4,1482.2L268.0,1482.6L270.5,1483.0L273.0,1483.4L275.6,1483.7L278.1,1484.0L280.7,1484.3L283.2,1484.6L285.8,1484.8L288.3,1485.1L290.8,1485.3L293.4,1485.5L295.9,1485.8L298.4,1485.9L301.0,1486.1L303.5,1486.3L306.0,1486.5L308.6,1486.6L311.1,1486.7L313.6,1486.9L316.1,1487.0L318.7,1487.1L321.2,1487.2L323.7,1487.3L326.2,1487.4L328.7,1487.4L331.2,1487.5L333.8,1487.6L336.3,1487.6L338.8,1487.7L341.3,1487.7L343.8,1487.8L346.3,1487.8L348.8,1487.8L351.4,1487.8L353.9,1487.9L356.4,1487.9L358.9,1487.9L361.4,1487.9L363.9,1487.9L366.4,1487.9L368.9,1487.9L371.4,1488.0L373.9,1488.0L376.4,1488.0L379.0,1488.0L381.5,1488.0L384.0,1488.0L386.5,1488.0L389.0,1488.0L391.5,1488.1L394.0,1488.1L396.5,1488.1L399.0,1488.2L401.6,1488.2L404.1,1488.2L406.6,1488.3L409.1,1488.3L411.6,1488.4L414.1,1488.5L416.7,1488.5L419.2,1488.6L421.7,1488.7" fill="none" stroke="#00ffff" stroke-width="3.7" clip-path="url(#clipE)"/>
<line x1="139.4" y1="1437.8" x2="172.95" y2="1398.33" stroke="#000" stroke-width="1.5"/>
<polygon points="181.9,1387.8 174.61,1406.8 172.95,1398.33 164.32,1398.06" fill="#000"/>
<rect x="245.3" y="1079.8" width="160.1" height="107.1" fill="#fff" stroke="#303030" stroke-width="1.4"/>
<path d="M255.5,1094.75L307.6,1094.75" fill="none" stroke="#ff0000" stroke-width="3.4" stroke-dasharray="2.3,2.4"/>
<text transform="translate(312.5,1102.2) scale(1.200,1)" font-size="20.3" text-anchor="start" xml:space="preserve">We = 1.0</text>
<path d="M255.5,1120.5L307.6,1120.5" fill="none" stroke="#00ff00" stroke-width="3.4" stroke-dasharray="9.5,9.5"/>
<text transform="translate(312.5,1127.7) scale(1.200,1)" font-size="20.3" text-anchor="start" xml:space="preserve">We = 2.0</text>
<path d="M255.5,1146.2L307.6,1146.2" fill="none" stroke="#0000ff" stroke-width="3.4" stroke-dasharray="9.6,2.5,3.5,2.5"/>
<text transform="translate(312.5,1153.5) scale(1.200,1)" font-size="20.3" text-anchor="start" xml:space="preserve">We = 3.0</text>
<path d="M255.5,1171.5L307.6,1171.5" fill="none" stroke="#00ffff" stroke-width="3.4"/>
<text transform="translate(312.5,1179.2) scale(1.200,1)" font-size="20.3" text-anchor="start" xml:space="preserve">We = 4.0</text>
<clipPath id="clipF"><rect x="529.8" y="1063.4" width="327.7" height="435.3"/></clipPath>
<text class="pl" transform="translate(446.2,1035.8) scale(0.940,1)" font-size="43.4">F</text>
<line x1="638.7" y1="1063.9" x2="638.7" y2="1497.2" stroke="#dfdfdf" stroke-width="1"/>
<line x1="747.1" y1="1063.9" x2="747.1" y2="1497.2" stroke="#dfdfdf" stroke-width="1"/>
<line x1="530.3" y1="1414.67" x2="855.5" y2="1414.67" stroke="#dfdfdf" stroke-width="1"/>
<line x1="530.3" y1="1332.13" x2="855.5" y2="1332.13" stroke="#dfdfdf" stroke-width="1"/>
<line x1="530.3" y1="1249.6" x2="855.5" y2="1249.6" stroke="#dfdfdf" stroke-width="1"/>
<line x1="530.3" y1="1167.07" x2="855.5" y2="1167.07" stroke="#dfdfdf" stroke-width="1"/>
<line x1="530.3" y1="1084.53" x2="855.5" y2="1084.53" stroke="#dfdfdf" stroke-width="1"/>
<rect x="530.3" y="1063.9" width="325.2" height="433.3" fill="none" stroke="#303030" stroke-width="1.5"/>
<text transform="translate(530.3,1532.9) scale(0.830,1)" font-size="29" text-anchor="middle">0</text>
<line x1="638.7" y1="1497.2" x2="638.7" y2="1492.7" stroke="#303030" stroke-width="1.35"/>
<line x1="638.7" y1="1063.9" x2="638.7" y2="1068.4" stroke="#303030" stroke-width="1.35"/>
<text transform="translate(638.7,1532.9) scale(0.830,1)" font-size="29" text-anchor="middle">2</text>
<line x1="747.1" y1="1497.2" x2="747.1" y2="1492.7" stroke="#303030" stroke-width="1.35"/>
<line x1="747.1" y1="1063.9" x2="747.1" y2="1068.4" stroke="#303030" stroke-width="1.35"/>
<text transform="translate(747.1,1532.9) scale(0.830,1)" font-size="29" text-anchor="middle">4</text>
<text transform="translate(855.5,1532.9) scale(0.830,1)" font-size="29" text-anchor="middle">6</text>
<text transform="translate(521.6,1507.6) scale(0.830,1)" font-size="29" text-anchor="end">0</text>
<line x1="530.3" y1="1414.67" x2="534.8" y2="1414.67" stroke="#303030" stroke-width="1.35"/>
<line x1="855.5" y1="1414.67" x2="851" y2="1414.67" stroke="#303030" stroke-width="1.35"/>
<text transform="translate(521.6,1425.07) scale(0.830,1)" font-size="29" text-anchor="end">0.2</text>
<line x1="530.3" y1="1332.13" x2="534.8" y2="1332.13" stroke="#303030" stroke-width="1.35"/>
<line x1="855.5" y1="1332.13" x2="851" y2="1332.13" stroke="#303030" stroke-width="1.35"/>
<text transform="translate(521.6,1342.53) scale(0.830,1)" font-size="29" text-anchor="end">0.4</text>
<line x1="530.3" y1="1249.6" x2="534.8" y2="1249.6" stroke="#303030" stroke-width="1.35"/>
<line x1="855.5" y1="1249.6" x2="851" y2="1249.6" stroke="#303030" stroke-width="1.35"/>
<text transform="translate(521.6,1260) scale(0.830,1)" font-size="29" text-anchor="end">0.6</text>
<line x1="530.3" y1="1167.07" x2="534.8" y2="1167.07" stroke="#303030" stroke-width="1.35"/>
<line x1="855.5" y1="1167.07" x2="851" y2="1167.07" stroke="#303030" stroke-width="1.35"/>
<text transform="translate(521.6,1177.47) scale(0.830,1)" font-size="29" text-anchor="end">0.8</text>
<line x1="530.3" y1="1084.53" x2="534.8" y2="1084.53" stroke="#303030" stroke-width="1.35"/>
<line x1="855.5" y1="1084.53" x2="851" y2="1084.53" stroke="#303030" stroke-width="1.35"/>
<text transform="translate(521.6,1094.93) scale(0.830,1)" font-size="29" text-anchor="end">1</text>
<text transform="translate(698.3,1565.3) scale(1.090,1)" font-size="26.8" text-anchor="middle"><tspan class="g">η</tspan></text>
<text transform="translate(481.7,1277.1) scale(0.845,1) rotate(-90)" font-size="27.8" text-anchor="middle" xml:space="preserve">Be(<tspan class="g">η</tspan>)</text>
<path d="M530.3,1429.6L531.3,1427.3L532.3,1424.9L533.2,1422.6L534.2,1420.3L535.2,1417.9L536.1,1415.6L537.0,1413.2L537.9,1410.9L538.9,1408.5L539.8,1406.2L540.6,1403.8L541.5,1401.5L542.4,1399.1L543.3,1396.7L544.1,1394.4L544.9,1392.0L545.8,1389.6L546.6,1387.2L547.4,1384.9L548.2,1382.5L549.0,1380.1L549.8,1377.7L550.6,1375.3L551.4,1372.9L552.1,1370.5L552.9,1368.1L553.7,1365.7L554.4,1363.3L555.1,1360.9L555.9,1358.5L556.6,1356.1L557.3,1353.7L558.0,1351.3L558.7,1348.9L559.4,1346.4L560.1,1344.0L560.8,1341.6L561.4,1339.2L562.1,1336.8L562.8,1334.3L563.4,1331.9L564.1,1329.5L564.7,1327.0L565.4,1324.6L566.0,1322.2L566.6,1319.7L567.3,1317.3L567.9,1314.8L568.5,1312.4L569.1,1310.0L569.7,1307.5L570.3,1305.1L570.9,1302.6L571.5,1300.2L572.1,1297.7L572.7,1295.3L573.2,1292.8L573.8,1290.4L574.4,1287.9L574.9,1285.5L575.5,1283.0L576.1,1280.5L576.6,1278.1L577.2,1275.6L577.7,1273.2L578.3,1270.7L578.8,1268.2L579.4,1265.8L579.9,1263.3L580.5,1260.9L581.0,1258.4L581.5,1255.9L582.1,1253.5L582.6,1251.0L583.1,1248.5L583.7,1246.1L584.2,1243.6L584.7,1241.1L585.2,1238.7L585.8,1236.2L586.3,1233.7L586.8,1231.3L587.3,1228.8L587.9,1226.3L588.4,1223.9L588.9,1221.4L589.4,1218.9L589.9,1216.5L590.5,1214.0L591.0,1211.5L591.5,1209.1L592.0,1206.6L592.6,1204.1L593.1,1201.7L593.6,1199.2L594.1,1196.8L594.7,1194.3L595.2,1191.8L595.7,1189.4L596.2,1186.9L596.8,1184.4L597.3,1182.0L597.9,1179.5L598.4,1177.1L598.9,1174.6L599.5,1172.2L600.0,1169.7L600.6,1167.3L601.2,1164.8L601.7,1162.3L602.3,1159.9L602.9,1157.4L603.5,1155.0L604.1,1152.6L604.8,1150.1L605.4,1147.7L606.1,1145.2L606.8,1142.8L607.5,1140.3L608.2,1137.9L608.9,1135.5L609.7,1133.0L610.5,1130.6L611.3,1128.2L612.1,1125.8L613.0,1123.3L613.9,1120.9L614.8,1118.5L615.7,1116.1L616.7,1113.6L617.7,1111.2L618.7,1108.8L619.8,1106.4L620.9,1104.0L622.0,1101.7L623.2,1099.3L624.5,1097.0L625.8,1094.8L627.1,1092.7L628.5,1090.6L629.9,1088.6L631.5,1086.7L633.0,1084.9L634.7,1083.2L636.4,1081.7L638.2,1080.3L640.1,1079.0L642.0,1077.9L644.0,1076.9L646.1,1076.1L648.3,1075.4L650.5,1074.9L652.8,1074.5L655.1,1074.2L657.5,1074.0L659.9,1073.9L662.3,1073.9L664.8,1074.0L667.3,1074.2L669.8,1074.5L672.3,1074.8L674.9,1075.3L677.4,1075.8L680.0,1076.3L682.5,1076.9L685.1,1077.6L687.6,1078.2L690.1,1078.9L692.7,1079.6L695.2,1080.3L697.7,1081.1L700.2,1081.7L702.7,1082.4L705.1,1083.0L707.6,1083.6L710.1,1084.2L712.6,1084.8L715.0,1085.3L717.5,1085.8L719.9,1086.2L722.4,1086.7L724.8,1087.1L727.3,1087.4L729.8,1087.7L732.2,1088.0L734.7,1088.3L737.2,1088.5L739.7,1088.6L742.2,1088.8L744.7,1088.9L747.2,1089.0L749.6,1089.0L752.2,1089.1L754.7,1089.1L757.2,1089.0L759.7,1089.0L762.2,1088.9L764.7,1088.8L767.2,1088.7L769.8,1088.6L772.3,1088.5L774.8,1088.3L777.3,1088.1L779.9,1087.9L782.4,1087.8L784.9,1087.5L787.5,1087.3L790.0,1087.1L792.5,1086.9L795.1,1086.6L797.6,1086.4L800.1,1086.2L802.7,1085.9L805.2,1085.7L807.7,1085.4L810.3,1085.2L812.8,1085.0L815.3,1084.7L817.9,1084.5L820.4,1084.3L822.9,1084.1L825.4,1083.9L828.0,1083.7L830.5,1083.6L833.0,1083.4L835.5,1083.3L838.0,1083.2L840.5,1083.0L843.0,1083.0L845.5,1082.9L848.0,1082.9L850.5,1082.9L853.0,1082.9L855.5,1082.9" fill="none" stroke="#ff0000" stroke-width="3.9" stroke-dasharray="2.3,2.4" clip-path="url(#clipF)"/>
<path d="M530.3,1424.4L531.4,1422.1L532.5,1419.9L533.7,1417.6L534.8,1415.4L535.9,1413.1L537.1,1410.8L538.2,1408.6L539.4,1406.3L540.5,1404.1L541.6,1401.8L542.7,1399.6L543.9,1397.3L545.0,1395.1L546.1,1392.8L547.1,1390.5L548.2,1388.2L549.2,1385.9L550.3,1383.6L551.3,1381.3L552.2,1379.0L553.2,1376.7L554.1,1374.3L555.0,1372.0L555.8,1369.6L556.7,1367.2L557.5,1364.8L558.2,1362.4L558.9,1360.0L559.6,1357.5L560.2,1355.1L560.8,1352.6L561.4,1350.1L562.0,1347.6L562.5,1345.1L563.0,1342.6L563.6,1340.1L564.1,1337.6L564.6,1335.1L565.1,1332.6L565.7,1330.1L566.2,1327.7L566.8,1325.2L567.3,1322.7L567.9,1320.2L568.5,1317.8L569.1,1315.3L569.7,1312.9L570.4,1310.5L571.0,1308.0L571.6,1305.6L572.3,1303.2L572.9,1300.8L573.6,1298.3L574.2,1295.9L574.9,1293.5L575.6,1291.1L576.3,1288.7L576.9,1286.3L577.6,1283.9L578.3,1281.5L579.0,1279.1L579.7,1276.7L580.4,1274.3L581.1,1271.9L581.8,1269.5L582.5,1267.1L583.2,1264.7L583.9,1262.4L584.6,1260.0L585.2,1257.6L585.9,1255.2L586.6,1252.8L587.3,1250.4L588.0,1247.9L588.6,1245.5L589.3,1243.1L590.0,1240.7L590.6,1238.3L591.3,1235.9L591.9,1233.4L592.6,1231.0L593.2,1228.6L593.8,1226.1L594.4,1223.7L595.0,1221.2L595.6,1218.7L596.2,1216.3L596.8,1213.8L597.3,1211.3L597.9,1208.8L598.4,1206.3L599.0,1203.9L599.5,1201.4L600.1,1198.9L600.6,1196.4L601.2,1193.9L601.7,1191.4L602.3,1188.9L602.8,1186.4L603.4,1183.9L604.0,1181.4L604.5,1178.9L605.1,1176.4L605.7,1173.9L606.3,1171.4L606.9,1169.0L607.6,1166.5L608.2,1164.0L608.9,1161.6L609.5,1159.1L610.2,1156.7L610.9,1154.2L611.7,1151.8L612.4,1149.4L613.2,1146.9L614.0,1144.5L614.8,1142.1L615.6,1139.8L616.5,1137.4L617.4,1135.0L618.3,1132.7L619.3,1130.4L620.2,1128.0L621.3,1125.7L622.3,1123.4L623.4,1121.2L624.5,1118.9L625.6,1116.7L626.8,1114.4L628.1,1112.2L629.3,1110.0L630.6,1107.9L632.0,1105.7L633.4,1103.6L634.8,1101.5L636.3,1099.5L637.8,1097.5L639.4,1095.6L641.0,1093.8L642.7,1092.1L644.5,1090.4L646.3,1088.9L648.2,1087.5L650.1,1086.2L652.2,1085.1L654.3,1084.1L656.4,1083.2L658.6,1082.5L660.9,1082.0L663.3,1081.5L665.6,1081.1L668.1,1080.9L670.6,1080.7L673.1,1080.6L675.6,1080.6L678.2,1080.7L680.8,1080.8L683.4,1081.0L686.0,1081.2L688.6,1081.4L691.3,1081.6L693.9,1081.9L696.5,1082.1L699.2,1082.4L701.8,1082.6L704.4,1082.8L707.0,1083.0L709.5,1083.2L712.1,1083.5L714.7,1083.7L717.3,1083.8L719.8,1084.0L722.4,1084.2L724.9,1084.4L727.4,1084.5L730.0,1084.7L732.5,1084.9L735.0,1085.0L737.5,1085.1L740.1,1085.3L742.6,1085.4L745.1,1085.5L747.6,1085.6L750.1,1085.7L752.6,1085.8L755.0,1085.9L757.5,1086.0L760.0,1086.1L762.5,1086.2L765.0,1086.2L767.5,1086.3L770.0,1086.4L772.4,1086.4L774.9,1086.4L777.4,1086.5L779.9,1086.5L782.3,1086.5L784.8,1086.5L787.3,1086.6L789.8,1086.6L792.3,1086.6L794.7,1086.5L797.2,1086.5L799.7,1086.5L802.2,1086.5L804.7,1086.4L807.2,1086.4L809.7,1086.3L812.2,1086.3L814.7,1086.2L817.2,1086.2L819.7,1086.1L822.2,1086.0L824.8,1085.9L827.3,1085.8L829.8,1085.7L832.4,1085.6L834.9,1085.5L837.4,1085.4L840.0,1085.3L842.6,1085.1L845.1,1085.0L847.7,1084.9L850.3,1084.7L852.9,1084.6L855.5,1084.4" fill="none" stroke="#0000ff" stroke-width="3.9" stroke-dasharray="9.6,2.5,3.5,2.5" clip-path="url(#clipF)"/>
<path d="M530.3,1432.7L531.4,1430.4L532.5,1428.1L533.5,1425.8L534.6,1423.5L535.7,1421.1L536.7,1418.8L537.7,1416.5L538.8,1414.2L539.8,1411.9L540.8,1409.6L541.8,1407.3L542.8,1404.9L543.8,1402.6L544.8,1400.3L545.8,1398.0L546.7,1395.7L547.7,1393.3L548.7,1391.0L549.6,1388.7L550.6,1386.4L551.5,1384.0L552.4,1381.7L553.3,1379.4L554.3,1377.1L555.2,1374.7L556.1,1372.4L557.0,1370.1L557.9,1367.7L558.7,1365.4L559.6,1363.1L560.5,1360.7L561.4,1358.4L562.2,1356.1L563.1,1353.7L563.9,1351.4L564.8,1349.0L565.6,1346.7L566.4,1344.3L567.2,1342.0L568.1,1339.6L568.9,1337.3L569.7,1334.9L570.5,1332.6L571.3,1330.2L572.1,1327.9L572.9,1325.5L573.7,1323.1L574.4,1320.8L575.2,1318.4L576.0,1316.0L576.7,1313.7L577.5,1311.3L578.3,1308.9L579.0,1306.6L579.8,1304.2L580.5,1301.8L581.2,1299.4L582.0,1297.0L582.7,1294.6L583.4,1292.3L584.2,1289.9L584.9,1287.5L585.6,1285.1L586.3,1282.7L587.0,1280.3L587.7,1277.9L588.4,1275.5L589.1,1273.1L589.8,1270.7L590.5,1268.3L591.2,1265.8L591.9,1263.4L592.6,1261.0L593.3,1258.6L594.0,1256.2L594.6,1253.7L595.3,1251.3L596.0,1248.9L596.7,1246.4L597.3,1244.0L598.0,1241.6L598.7,1239.1L599.3,1236.7L600.0,1234.2L600.6,1231.8L601.3,1229.3L602.0,1226.8L602.6,1224.4L603.3,1221.9L603.9,1219.4L604.6,1217.0L605.2,1214.5L605.9,1212.0L606.5,1209.6L607.2,1207.1L607.8,1204.6L608.5,1202.1L609.2,1199.7L609.9,1197.2L610.5,1194.7L611.2,1192.2L611.9,1189.8L612.7,1187.3L613.4,1184.9L614.1,1182.4L614.9,1180.0L615.6,1177.6L616.4,1175.2L617.2,1172.8L618.0,1170.4L618.9,1168.0L619.7,1165.6L620.6,1163.2L621.5,1160.9L622.4,1158.5L623.4,1156.2L624.3,1153.9L625.3,1151.6L626.4,1149.3L627.4,1147.0L628.5,1144.8L629.6,1142.5L630.7,1140.3L631.9,1138.1L633.1,1136.0L634.3,1133.8L635.6,1131.7L636.9,1129.6L638.2,1127.5L639.6,1125.4L641.0,1123.4L642.5,1121.4L644.0,1119.4L645.5,1117.4L647.1,1115.5L648.7,1113.6L650.3,1111.8L652.0,1109.9L653.8,1108.2L655.5,1106.5L657.3,1104.8L659.2,1103.2L661.0,1101.6L663.0,1100.1L664.9,1098.6L666.9,1097.3L668.9,1095.9L671.0,1094.7L673.1,1093.5L675.3,1092.4L677.5,1091.3L679.7,1090.3L681.9,1089.4L684.2,1088.6L686.6,1087.9L689.0,1087.2L691.4,1086.7L693.8,1086.2L696.3,1085.7L698.8,1085.3L701.3,1085.0L703.8,1084.7L706.4,1084.5L709.0,1084.3L711.5,1084.2L714.1,1084.0L716.7,1084.0L719.3,1083.9L721.9,1083.9L724.5,1083.8L727.2,1083.8L729.8,1083.8L732.3,1083.8L734.9,1083.8L737.5,1083.8L740.1,1083.8L742.6,1083.8L745.2,1083.8L747.7,1083.8L750.3,1083.8L752.8,1083.8L755.3,1083.8L757.9,1083.8L760.4,1083.8L762.9,1083.9L765.4,1083.9L767.9,1083.9L770.4,1083.9L772.9,1083.9L775.4,1083.9L777.9,1083.9L780.4,1084.0L782.9,1084.0L785.4,1084.0L787.9,1084.0L790.4,1084.0L792.9,1084.0L795.3,1084.1L797.8,1084.1L800.3,1084.1L802.8,1084.1L805.3,1084.1L807.8,1084.1L810.3,1084.2L812.7,1084.2L815.2,1084.2L817.7,1084.2L820.2,1084.2L822.7,1084.2L825.2,1084.2L827.7,1084.3L830.2,1084.3L832.7,1084.3L835.2,1084.3L837.7,1084.3L840.3,1084.3L842.8,1084.3L845.3,1084.3L847.9,1084.3L850.4,1084.3L852.9,1084.3L855.5,1084.3" fill="none" stroke="#00ff00" stroke-width="3.9" stroke-dasharray="9.5,9.5" clip-path="url(#clipF)"/>
<path d="M530.3,1440.0L531.3,1437.7L532.4,1435.3L533.4,1433.0L534.4,1430.7L535.4,1428.3L536.4,1426.0L537.4,1423.6L538.4,1421.3L539.4,1419.0L540.4,1416.7L541.4,1414.3L542.4,1412.0L543.4,1409.7L544.4,1407.3L545.3,1405.0L546.3,1402.7L547.3,1400.3L548.3,1398.0L549.2,1395.7L550.2,1393.4L551.1,1391.0L552.1,1388.7L553.0,1386.4L554.0,1384.0L554.9,1381.7L555.8,1379.4L556.8,1377.0L557.7,1374.7L558.6,1372.4L559.5,1370.0L560.4,1367.7L561.3,1365.4L562.2,1363.0L563.1,1360.7L564.0,1358.4L564.9,1356.0L565.8,1353.7L566.7,1351.4L567.6,1349.0L568.5,1346.7L569.3,1344.3L570.2,1342.0L571.1,1339.7L571.9,1337.3L572.8,1335.0L573.6,1332.6L574.5,1330.3L575.3,1327.9L576.2,1325.6L577.0,1323.2L577.8,1320.9L578.7,1318.5L579.5,1316.1L580.3,1313.8L581.1,1311.4L582.0,1309.1L582.8,1306.7L583.6,1304.3L584.4,1301.9L585.2,1299.6L586.0,1297.2L586.8,1294.8L587.5,1292.4L588.3,1290.1L589.1,1287.7L589.9,1285.3L590.7,1282.9L591.4,1280.5L592.2,1278.1L592.9,1275.7L593.7,1273.3L594.4,1270.9L595.2,1268.5L595.9,1266.1L596.7,1263.7L597.4,1261.3L598.1,1258.9L598.9,1256.4L599.6,1254.0L600.3,1251.6L601.0,1249.2L601.7,1246.7L602.4,1244.3L603.1,1241.8L603.8,1239.4L604.5,1236.9L605.2,1234.5L605.9,1232.0L606.6,1229.6L607.3,1227.1L608.0,1224.7L608.6,1222.2L609.3,1219.7L610.0,1217.2L610.6,1214.8L611.3,1212.3L611.9,1209.8L612.6,1207.3L613.3,1204.8L613.9,1202.3L614.6,1199.8L615.3,1197.4L616.0,1194.9L616.7,1192.4L617.4,1189.9L618.1,1187.5L618.8,1185.0L619.5,1182.6L620.3,1180.1L621.0,1177.7L621.8,1175.2L622.6,1172.8L623.4,1170.4L624.3,1168.0L625.1,1165.6L626.0,1163.2L626.9,1160.8L627.8,1158.5L628.8,1156.1L629.8,1153.8L630.8,1151.5L631.8,1149.2L632.9,1146.9L634.0,1144.7L635.1,1142.4L636.2,1140.2L637.4,1138.0L638.7,1135.8L640.0,1133.6L641.3,1131.5L642.6,1129.4L644.0,1127.3L645.4,1125.2L646.9,1123.2L648.4,1121.2L649.9,1119.2L651.5,1117.3L653.1,1115.5L654.8,1113.6L656.5,1111.8L658.2,1110.1L660.0,1108.4L661.8,1106.8L663.7,1105.2L665.6,1103.7L667.5,1102.3L669.5,1100.9L671.5,1099.6L673.5,1098.4L675.6,1097.2L677.8,1096.1L679.9,1095.1L682.1,1094.1L684.4,1093.2L686.7,1092.3L689.0,1091.5L691.3,1090.8L693.6,1090.1L696.0,1089.5L698.4,1088.9L700.9,1088.4L703.3,1087.9L705.8,1087.5L708.3,1087.1L710.8,1086.7L713.3,1086.4L715.9,1086.1L718.5,1085.9L721.0,1085.7L723.6,1085.5L726.2,1085.3L728.8,1085.2L731.4,1085.1L734.0,1085.0L736.6,1084.9L739.2,1084.9L741.9,1084.9L744.5,1084.8L747.1,1084.8L749.7,1084.8L752.3,1084.9L754.9,1084.9L757.5,1084.9L760.1,1084.9L762.6,1084.9L765.2,1085.0L767.7,1085.0L770.3,1085.0L772.8,1085.0L775.3,1085.0L777.8,1085.1L780.4,1085.1L782.9,1085.1L785.4,1085.1L787.8,1085.1L790.3,1085.1L792.8,1085.1L795.3,1085.1L797.8,1085.1L800.3,1085.1L802.7,1085.1L805.2,1085.1L807.7,1085.1L810.1,1085.1L812.6,1085.1L815.1,1085.1L817.6,1085.1L820.1,1085.1L822.6,1085.0L825.0,1085.0L827.5,1085.0L830.0,1084.9L832.5,1084.9L835.1,1084.9L837.6,1084.8L840.1,1084.8L842.7,1084.7L845.2,1084.7L847.8,1084.6L850.3,1084.5L852.9,1084.5L855.5,1084.4" fill="none" stroke="#00ffff" stroke-width="3.9" clip-path="url(#clipF)"/>
<line x1="621.5" y1="1174.4" x2="595.72" y2="1118.19" stroke="#000" stroke-width="1.5"/>
<polygon points="589.4,1104.4 603.94,1120.28 595.72,1118.19 591.95,1125.79" fill="#000"/>
<rect x="696.25" y="1358.3" width="143.75" height="122.95" fill="#fff" stroke="#303030" stroke-width="1.4"/>
<path d="M705,1375.8L751.9,1375.8" fill="none" stroke="#ff0000" stroke-width="4" stroke-dasharray="2.3,2.4"/>
<text transform="translate(756,1384.8) scale(0.890,1)" font-size="25" text-anchor="start" xml:space="preserve">We = 1.0</text>
<path d="M705,1405.2L751.9,1405.2" fill="none" stroke="#0000ff" stroke-width="4" stroke-dasharray="9.6,2.5,3.5,2.5"/>
<text transform="translate(756,1414.4) scale(0.890,1)" font-size="25" text-anchor="start" xml:space="preserve">We = 2.0</text>
<path d="M705,1434.4L751.9,1434.4" fill="none" stroke="#00ff00" stroke-width="4" stroke-dasharray="9.5,9.5"/>
<text transform="translate(756,1443.5) scale(0.890,1)" font-size="25" text-anchor="start" xml:space="preserve">We = 3.0</text>
<path d="M705,1463.5L751.9,1463.5" fill="none" stroke="#00ffff" stroke-width="4"/>
<text transform="translate(756,1472.7) scale(0.890,1)" font-size="25" text-anchor="start" xml:space="preserve">We = 4.0</text>
</svg>
</body></html>
